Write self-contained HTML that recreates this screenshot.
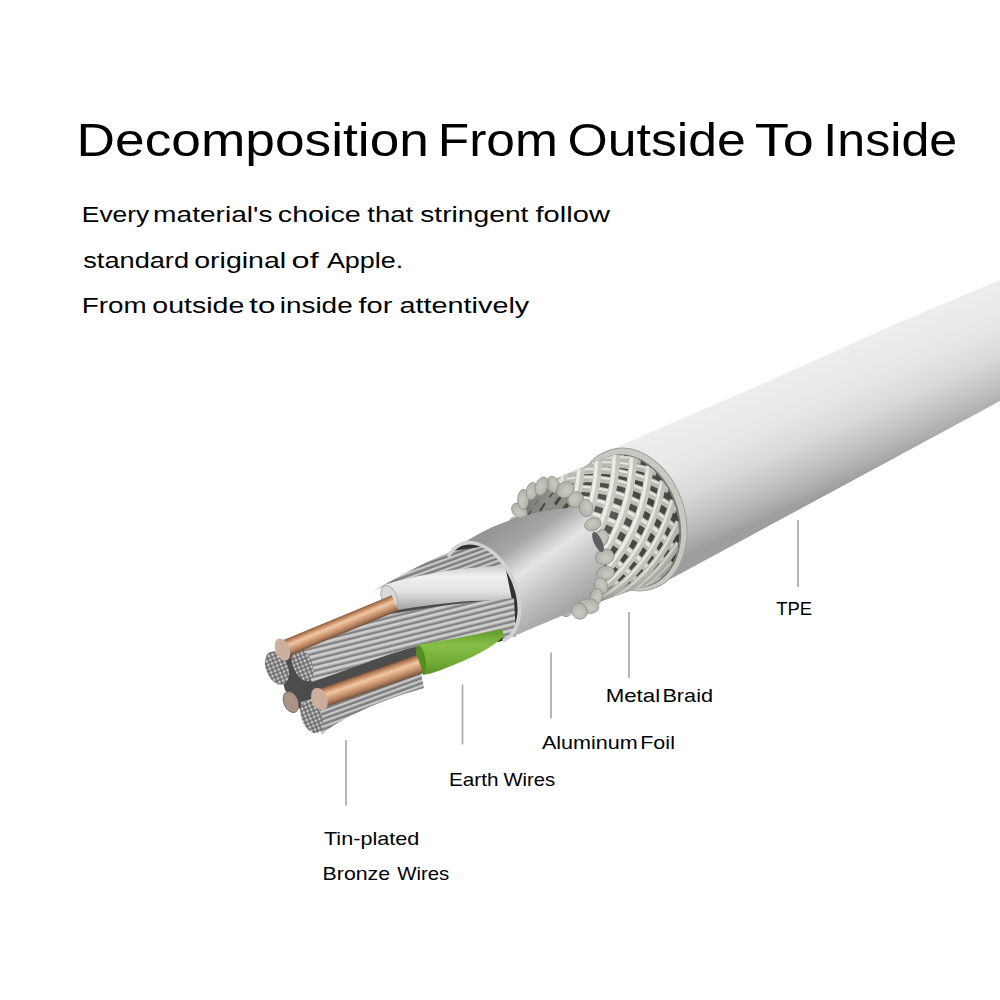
<!DOCTYPE html>
<html><head><meta charset="utf-8"><style>
html,body{margin:0;padding:0;background:#fff;width:1000px;height:1000px;overflow:hidden}
svg{display:block}
text{font-family:"Liberation Sans",sans-serif;fill:#000;white-space:pre}
</style></head><body>
<svg width="1000" height="1000" viewBox="0 0 1000 1000">
<defs>
<linearGradient id="tpe" gradientUnits="userSpaceOnUse" x1="800" y1="367" x2="851" y2="481.5">
  <stop offset="0" stop-color="#ededed"/>
  <stop offset="0.3" stop-color="#e8e8e8"/>
  <stop offset="0.55" stop-color="#dadada"/>
  <stop offset="0.75" stop-color="#c4c4c4"/>
  <stop offset="0.9" stop-color="#b0b0b0"/>
  <stop offset="1" stop-color="#9e9e9e"/>
</linearGradient>
<linearGradient id="cu" x1="0" y1="0" x2="0" y2="1">
  <stop offset="0" stop-color="#8a583a"/>
  <stop offset="0.15" stop-color="#c08660"/>
  <stop offset="0.38" stop-color="#f0c8a4"/>
  <stop offset="0.55" stop-color="#dcaa84"/>
  <stop offset="0.8" stop-color="#b47e5c"/>
  <stop offset="1" stop-color="#70503c"/>
</linearGradient>
<linearGradient id="wht" x1="0" y1="0" x2="0" y2="1">
  <stop offset="0" stop-color="#c8c8c8"/>
  <stop offset="0.25" stop-color="#f0f0f0"/>
  <stop offset="0.6" stop-color="#e2e2e2"/>
  <stop offset="1" stop-color="#a0a0a0"/>
</linearGradient>
<linearGradient id="grn" x1="0" y1="0" x2="0" y2="1">
  <stop offset="0" stop-color="#5e9a28"/>
  <stop offset="0.35" stop-color="#86be46"/>
  <stop offset="0.7" stop-color="#74ae38"/>
  <stop offset="1" stop-color="#5a9224"/>
</linearGradient>
<pattern id="strp" patternUnits="userSpaceOnUse" width="60" height="5.6" patternTransform="rotate(-14)">
  <rect width="60" height="5.6" fill="#acacac"/>
  <rect y="0.6" width="60" height="1.8" fill="#d8d8d8"/>
  <rect y="4" width="60" height="1.3" fill="#707070"/>
</pattern>
<pattern id="strp2" patternUnits="userSpaceOnUse" width="60" height="4.8" patternTransform="rotate(-20)">
  <rect width="60" height="4.8" fill="#9c9c9c"/>
  <rect y="0.4" width="60" height="1.6" fill="#d2d2d2"/>
  <rect y="3.4" width="60" height="1.1" fill="#666"/>
</pattern>
<pattern id="dots" patternUnits="userSpaceOnUse" width="4" height="4">
  <rect width="4" height="4" fill="#686868"/>
  <circle cx="2" cy="2" r="1.45" fill="#cacaca"/>
</pattern>
<linearGradient id="foil" gradientUnits="userSpaceOnUse" x1="518" y1="515" x2="578" y2="602">
  <stop offset="0" stop-color="#969696"/>
  <stop offset="0.22" stop-color="#a6a6a6"/>
  <stop offset="0.36" stop-color="#cacaca"/>
  <stop offset="0.47" stop-color="#e4e4e4"/>
  <stop offset="0.6" stop-color="#d4d4d4"/>
  <stop offset="0.78" stop-color="#bdbdbd"/>
  <stop offset="1" stop-color="#a6a6a6"/>
</linearGradient>
<radialGradient id="braidshade" gradientUnits="userSpaceOnUse" cx="605" cy="515" r="90">
  <stop offset="0" stop-color="#fff" stop-opacity="0.12"/>
  <stop offset="0.55" stop-color="#fff" stop-opacity="0"/>
  <stop offset="0.85" stop-color="#000" stop-opacity="0.12"/>
  <stop offset="1" stop-color="#000" stop-opacity="0.3"/>
</radialGradient>
<pattern id="mesh" patternUnits="userSpaceOnUse" width="16" height="15" patternTransform="translate(600,455) matrix(0.95 0.33 0.06 1 0 0)">
  <rect width="16" height="15" fill="#d4d4cc"/>
  <rect x="5" y="4" width="8.5" height="10" fill="#3a3a36"/>
  <rect x="7" y="8" width="5" height="5" fill="#5e5e58"/>
  <rect x="5" y="4" width="8.5" height="2.2" fill="#f6f6f0"/>
  <rect x="5" y="4" width="1.6" height="10" fill="#a8a8a2"/>
  <rect x="0" y="0" width="16" height="1.4" fill="#a6a69e"/>
  <rect x="0" y="0" width="2.2" height="15" fill="#f0f0ea"/>
  <rect x="2.2" y="0" width="1" height="15" fill="#b8b8b0"/>
</pattern>
<radialGradient id="blob" cx="0.45" cy="0.4" r="0.65">
  <stop offset="0" stop-color="#cacac2"/>
  <stop offset="0.8" stop-color="#b4b4ac"/>
  <stop offset="1" stop-color="#9a9a92"/>
</radialGradient>
<clipPath id="braidclip">
  <path d="M536.4,487.4 L602.1,459.0 L640.7,587.0 L573.7,610.7 Z"/>
  <ellipse cx="628" cy="521" rx="49.5" ry="67.5" transform="rotate(-16.8,628,521)"/>
  <ellipse cx="560" cy="548" rx="41" ry="65" transform="rotate(-20,560,548)"/>
</clipPath>
</defs>
<rect width="1000" height="1000" fill="#fff"/>
<path d="M610,450 L780,376 L900,322 L1000,280 L1000,401 L652,589 Z" fill="url(#tpe)"/>
<ellipse cx="631.0" cy="519.5" rx="54.2" ry="72.6" transform="rotate(-16.8,631.0,519.5)" fill="#c8c8c2" stroke="#a0a09a" stroke-width="1" />
<ellipse cx="629.5" cy="521.0" rx="50.0" ry="68.0" transform="rotate(-16.8,629.5,521.0)" fill="#7a7a76" stroke="none" stroke-width="0" />
<g clip-path="url(#braidclip)"><rect x="500" y="440" width="200" height="190" fill="#44443f"/><path d="M642.4,589.8 L642.4,589.7 L642.3,589.4 L642.2,588.8 L641.9,588.0 L641.6,586.9 M627.5,597.2 L627.6,597.3 L627.5,597.1 L627.4,596.6 L627.1,595.8 L626.8,594.8 L626.4,593.4 L626.0,591.8 L625.6,589.9 L625.2,587.7 L624.8,585.4 M611.4,602.2 L611.9,602.8 L612.2,603.1 L612.3,603.1 L612.2,602.8 L612.1,602.2 L611.8,601.3 L611.5,600.1 L611.1,598.6 L610.6,596.8 L610.2,594.7 L609.7,592.3 L609.3,589.7 L608.9,586.8 L608.6,583.6 L608.4,580.3 L608.3,576.8 M594.3,605.1 L595.1,605.9 L595.8,606.6 L596.3,607.0 L596.6,607.2 L596.7,607.1 L596.7,606.7 L596.6,606.0 L596.4,605.0 L596.1,603.7 L595.7,602.1 L595.3,600.2 L594.8,598.0 L594.4,595.4 L594.0,592.6 L593.6,589.6 L593.3,586.2 L593.1,582.7 L593.0,578.9 L593.0,575.0 L593.2,570.8 L593.5,566.6 L594.0,562.2 M580.2,609.7 L580.7,609.8 L581.0,609.8 L581.2,609.4 L581.3,608.8 L581.3,608.0 L581.1,606.9 L580.9,605.5 L580.5,603.8 L580.2,601.8 L579.8,599.5 L579.4,596.9 L579.0,594.0 L578.6,590.9 L578.4,587.4 L578.2,583.8 L578.1,579.8 L578.2,575.7 L578.4,571.4 L578.7,567.0 L579.3,562.4 L580.0,557.7 L580.9,552.9 L582.0,548.0 L583.3,543.1 M566.2,609.9 L566.2,608.8 L566.1,607.4 L566.0,605.8 L565.8,604.0 L565.5,601.9 L565.2,599.5 L564.9,596.8 L564.6,593.9 L564.3,590.6 L564.1,587.2 L563.9,583.4 L563.9,579.5 L564.0,575.3 L564.2,570.9 L564.6,566.3 L565.2,561.6 L566.0,556.8 L567.0,551.9 L568.2,546.8 L569.6,541.8 L571.3,536.7 L573.2,531.6 L575.3,526.6 L577.6,521.6 M551.5,603.3 L551.4,601.0 L551.2,598.4 L551.0,595.6 L550.8,592.5 L550.7,589.3 L550.6,585.7 L550.5,581.9 L550.6,577.9 L550.7,573.7 L551.0,569.3 L551.5,564.7 L552.1,560.0 L552.9,555.1 L554.0,550.1 L555.2,545.1 L556.7,539.9 L558.4,534.8 L560.4,529.7 L562.6,524.5 L565.1,519.5 L567.8,514.4 L570.8,509.5 L573.9,504.7 L577.3,500.0 M537.7,590.7 L537.8,587.3 L537.8,583.6 L537.9,579.8 L538.1,575.8 L538.4,571.5 L538.8,567.1 L539.4,562.5 L540.1,557.8 L540.9,552.9 L542.0,547.9 L543.3,542.9 L544.9,537.7 L546.6,532.6 L548.7,527.4 L550.9,522.3 L553.5,517.2 L556.3,512.2 L559.3,507.2 L562.7,502.4 L566.2,497.8 L570.0,493.2 L574.0,488.9 L578.2,484.7 L582.6,480.7 M526.4,573.4 L526.9,569.2 L527.5,564.7 L528.2,560.2 L529.0,555.5 L530.0,550.6 L531.2,545.7 L532.6,540.7 L534.2,535.6 L536.0,530.5 L538.1,525.3 L540.4,520.2 L543.0,515.2 L545.8,510.2 L548.9,505.2 L552.3,500.5 L555.9,495.8 L559.8,491.4 L563.9,487.1 L568.2,483.0 L572.8,479.1 L577.6,475.4 L582.5,472.0 L587.6,468.8 L592.8,465.8 M518.8,553.4 L520.0,548.6 L521.3,543.8 L522.8,538.8 L524.6,533.8 L526.5,528.8 L528.6,523.8 L531.0,518.7 L533.6,513.8 L536.5,508.8 L539.6,504.0 L543.0,499.3 L546.6,494.7 L550.6,490.2 L554.7,486.0 L559.1,482.0 L563.7,478.2 L568.6,474.6 L573.6,471.3 L578.8,468.3 L584.2,465.5 L589.7,463.0 L595.3,460.7 L601.0,458.7 L606.8,456.9 M515.6,532.8 L517.7,527.9 L520.0,523.0 L522.5,518.1 L525.2,513.3 L528.1,508.5 L531.3,503.8 L534.7,499.2 L538.4,494.7 L542.3,490.3 L546.5,486.2 L550.9,482.2 L555.5,478.5 L560.3,475.0 L565.4,471.8 L570.6,468.9 L576.1,466.2 L581.6,463.8 L587.4,461.7 L593.2,459.9 L599.1,458.4 L605.1,457.2 M517.2,513.8 L520.3,509.2 L523.6,504.7 L527.1,500.3 L530.8,496.0 L534.8,491.9 L538.9,487.9 L543.3,484.0 L548.0,480.4 L552.8,477.0 L557.9,473.9 L563.1,471.1 L568.5,468.5 L574.1,466.2 L579.8,464.2 L585.7,462.5 L591.6,461.2 M523.6,498.6 L527.6,494.7 L531.8,490.9 L536.3,487.3 L540.9,483.9 L545.7,480.7 L550.7,477.8 L556.0,475.0 L561.3,472.6 L566.9,470.4 L572.6,468.5 M533.9,488.7 L538.7,485.8 L543.7,483.1 L548.9,480.6 L554.3,478.3 M641.7,590.2 L641.7,590.1 L641.5,589.7 L641.3,589.1 L641.0,588.1 L640.7,587.0 M626.5,597.2 L626.7,597.6 L626.8,597.6 L626.7,597.4 L626.5,596.8 L626.3,596.0 L625.9,594.8 L625.5,593.4 L625.1,591.7 L624.7,589.7 L624.3,587.5 L623.9,585.1 M610.7,602.6 L611.1,603.1 L611.4,603.4 L611.5,603.3 L611.4,603.0 L611.2,602.3 L610.9,601.3 L610.6,600.1 L610.2,598.5 L609.7,596.6 L609.3,594.4 L608.8,592.0 L608.4,589.3 L608.1,586.3 L607.8,583.1 L607.6,579.7 L607.5,576.2 M593.6,605.5 L594.4,606.3 L595.1,606.9 L595.5,607.2 L595.8,607.3 L595.9,607.2 L595.9,606.7 L595.8,605.9 L595.5,604.9 L595.2,603.5 L594.8,601.9 L594.4,599.9 L593.9,597.6 L593.5,595.0 L593.1,592.1 L592.7,589.0 L592.5,585.6 L592.3,582.0 L592.2,578.2 L592.3,574.2 L592.5,570.0 L592.8,565.7 L593.3,561.3 M579.5,609.9 L580.0,610.0 L580.3,609.8 L580.5,609.4 L580.5,608.8 L580.4,607.9 L580.3,606.7 L580.0,605.2 L579.7,603.4 L579.3,601.4 L578.9,599.0 L578.5,596.3 L578.1,593.4 L577.8,590.2 L577.6,586.7 L577.4,583.0 L577.3,579.0 L577.4,574.8 L577.7,570.5 L578.1,566.0 L578.7,561.4 L579.4,556.6 L580.4,551.8 L581.6,546.9 L582.9,542.0 M565.4,609.7 L565.4,608.5 L565.3,607.1 L565.2,605.5 L565.0,603.5 L564.7,601.4 L564.4,598.9 L564.1,596.2 L563.8,593.2 L563.5,589.9 L563.3,586.3 L563.2,582.6 L563.2,578.5 L563.3,574.3 L563.6,569.9 L564.0,565.3 L564.7,560.5 L565.5,555.7 L566.5,550.7 L567.8,545.7 L569.3,540.6 L571.0,535.6 L572.9,530.5 L575.1,525.4 L577.4,520.4 M550.7,602.8 L550.6,600.4 L550.4,597.8 L550.3,594.9 L550.1,591.8 L550.0,588.4 L549.9,584.8 L549.8,581.0 L549.9,577.0 L550.1,572.7 L550.4,568.3 L550.9,563.6 L551.6,558.9 L552.5,554.0 L553.5,549.0 L554.9,543.9 L556.4,538.8 L558.2,533.6 L560.2,528.5 L562.5,523.3 L565.0,518.3 L567.8,513.3 L570.8,508.4 L574.0,503.6 L577.5,498.9 M537.1,589.9 L537.1,586.4 L537.2,582.7 L537.3,578.8 L537.6,574.8 L537.9,570.5 L538.3,566.0 L538.9,561.4 L539.6,556.6 L540.6,551.8 L541.7,546.8 L543.0,541.7 L544.6,536.5 L546.4,531.4 L548.5,526.2 L550.9,521.1 L553.5,516.0 L556.3,511.0 L559.4,506.1 L562.8,501.3 L566.4,496.7 L570.3,492.2 L574.3,487.9 L578.6,483.7 L583.0,479.8 M525.9,572.4 L526.4,568.1 L527.1,563.7 L527.8,559.1 L528.7,554.3 L529.7,549.5 L531.0,544.5 L532.4,539.5 L534.0,534.4 L535.9,529.3 L538.0,524.2 L540.4,519.1 L543.0,514.0 L545.9,509.0 L549.1,504.1 L552.5,499.4 L556.2,494.8 L560.1,490.4 L564.3,486.1 L568.7,482.1 L573.3,478.2 L578.1,474.6 L583.1,471.3 L588.2,468.1 L593.5,465.2 M518.5,552.3 L519.7,547.5 L521.1,542.6 L522.7,537.7 L524.5,532.7 L526.4,527.7 L528.6,522.7 L531.1,517.6 L533.7,512.7 L536.7,507.8 L539.8,502.9 L543.3,498.2 L547.0,493.7 L550.9,489.3 L555.2,485.1 L559.6,481.2 L564.3,477.4 L569.2,473.9 L574.2,470.7 L579.5,467.7 L584.9,464.9 L590.4,462.5 L596.1,460.3 L601.8,458.3 L607.7,456.6 M515.5,531.7 L517.7,526.8 L520.0,522.0 L522.6,517.1 L525.4,512.3 L528.4,507.5 L531.6,502.8 L535.1,498.2 L538.8,493.8 L542.7,489.5 L546.9,485.4 L551.4,481.5 L556.1,477.8 L561.0,474.4 L566.1,471.2 L571.4,468.4 L576.8,465.8 L582.4,463.4 L588.2,461.4 L594.0,459.7 L599.9,458.2 L605.9,457.1 M517.5,512.9 L520.6,508.4 L523.9,503.9 L527.5,499.5 L531.3,495.2 L535.3,491.1 L539.5,487.2 L543.9,483.4 L548.6,479.8 L553.5,476.5 L558.6,473.4 L563.8,470.7 L569.3,468.1 L574.9,465.9 L580.7,464.0 L586.5,462.4 M524.0,497.9 L528.1,494.1 L532.4,490.4 L536.8,486.8 L541.5,483.5 L546.4,480.3 L551.5,477.4 L556.7,474.7 L562.1,472.3 L567.7,470.2 L573.4,468.4 M534.5,488.4 L539.4,485.5 L544.4,482.9 L549.7,480.4 L555.0,478.2 M640.9,590.7 L640.9,590.5 L640.7,590.0 L640.5,589.3 L640.2,588.3 L639.9,587.1 M625.8,597.7 L625.9,598.0 L626.0,597.9 L625.9,597.6 L625.7,597.0 L625.4,596.1 L625.0,594.8 L624.6,593.3 L624.2,591.6 L623.8,589.5 L623.4,587.3 L623.0,584.8 M580.0,465.6 L580.2,464.7 L580.4,464.1 L580.6,463.7 L581.0,463.7 L581.4,464.0 L581.9,464.5 L582.5,465.2 L583.2,466.2 L584.1,467.5 L585.1,468.9 L586.2,470.5 L587.4,472.2 M597.5,459.3 L597.7,458.9 L598.0,458.7 L598.3,458.7 L598.7,459.0 L599.2,459.6 L599.8,460.3 M580.2,609.7 L585.4,608.6 L590.6,607.2 L595.8,605.6 M566.2,609.9 L571.4,609.9 L576.7,609.8 L582.0,609.4 L587.4,608.8 L592.7,607.9 L598.1,606.8 L603.5,605.3 L608.8,603.6 L614.1,601.6 M551.5,603.3 L556.5,604.4 L561.6,605.4 L566.8,606.2 L572.1,606.8 L577.4,607.2 L582.8,607.3 L588.2,607.1 L593.7,606.7 L599.2,606.0 L604.6,605.0 L610.1,603.6 L615.5,602.0 L620.9,600.1 L626.2,597.8 L631.4,595.3 M537.7,590.7 L542.3,592.7 L547.0,594.5 L551.8,596.3 L556.7,597.9 L561.7,599.3 L566.8,600.6 L572.1,601.6 L577.4,602.4 L582.8,602.9 L588.2,603.2 L593.7,603.2 L599.3,602.9 L604.8,602.3 L610.4,601.3 L615.9,600.1 L621.4,598.6 L626.8,596.8 L632.2,594.6 L637.5,592.3 L642.7,589.6 L647.8,586.7 M526.4,573.4 L530.3,575.9 L534.4,578.3 L538.6,580.7 L542.9,583.1 L547.4,585.3 L552.0,587.4 L556.8,589.4 L561.7,591.2 L566.7,592.8 L571.8,594.2 L577.1,595.4 L582.4,596.3 L587.9,596.9 L593.3,597.3 L598.9,597.4 L604.4,597.2 L610.0,596.7 L615.6,595.9 L621.2,594.8 L626.7,593.4 L632.2,591.8 L637.6,589.9 L643.0,587.7 L648.3,585.4 M518.8,553.4 L521.9,556.0 L525.2,558.6 L528.6,561.3 L532.2,563.9 L536.0,566.6 L539.9,569.2 L544.0,571.8 L548.2,574.3 L552.6,576.7 L557.2,579.0 L562.0,581.1 L566.9,583.0 L571.9,584.7 L577.0,586.2 L582.3,587.4 L587.6,588.5 L593.0,589.2 L598.5,589.7 L604.0,589.9 L609.6,589.8 L615.2,589.4 L620.8,588.8 L626.4,588.0 L631.9,586.9 M515.6,532.8 L517.9,535.0 L520.4,537.4 L523.0,540.0 L525.8,542.6 L528.7,545.3 L531.8,548.0 L535.1,550.8 L538.5,553.6 L542.2,556.4 L546.0,559.1 L550.0,561.8 L554.2,564.4 L558.6,566.9 L563.2,569.2 L567.9,571.4 L572.7,573.4 L577.7,575.1 L582.8,576.7 L588.0,578.1 L593.3,579.2 L598.6,580.0 L604.1,580.7 L609.6,581.1 L615.1,581.2 M517.2,513.8 L518.8,515.4 L520.5,517.2 L522.4,519.2 L524.3,521.3 L526.4,523.6 L528.7,526.0 L531.1,528.6 L533.7,531.3 L536.4,534.0 L539.4,536.8 L542.6,539.7 L546.0,542.5 L549.5,545.4 L553.3,548.2 L557.2,550.9 L561.4,553.5 L565.7,556.1 L570.1,558.4 L574.7,560.6 L579.5,562.7 L584.4,564.6 L589.4,566.2 L594.5,567.7 L599.6,569.0 M523.6,498.6 L524.6,499.2 L525.6,500.1 L526.7,501.2 L528.0,502.5 L529.3,504.0 L530.8,505.7 L532.4,507.7 L534.1,509.8 L536.0,512.1 L538.1,514.5 L540.4,517.1 L542.9,519.8 L545.6,522.6 L548.5,525.4 L551.5,528.3 L554.8,531.2 L558.3,534.0 L561.9,536.8 L565.8,539.5 L569.8,542.2 L573.9,544.7 L578.3,547.1 L582.7,549.4 L587.3,551.5 M533.9,488.7 L534.4,488.2 L535.0,487.9 L535.7,487.9 L536.4,488.1 L537.1,488.6 L537.9,489.3 L538.8,490.3 L539.9,491.5 L541.0,493.0 L542.3,494.7 L543.8,496.6 L545.4,498.7 L547.2,501.0 L549.2,503.4 L551.4,506.0 L553.8,508.6 L556.3,511.4 L559.1,514.2 L562.0,517.0 L565.2,519.8 L568.5,522.7 L571.9,525.4 L575.6,528.1 L579.4,530.8 M547.4,483.6 L547.8,482.1 L548.2,480.8 L548.6,479.8 L548.9,479.0 L549.3,478.5 L549.8,478.3 L550.3,478.4 L550.9,478.7 L551.6,479.4 L552.3,480.3 L553.2,481.5 L554.3,482.9 L555.5,484.5 L556.8,486.4 L558.3,488.5 L560.0,490.7 L561.9,493.1 L563.9,495.5 L566.1,498.1 L568.5,500.8 L571.1,503.5 L573.9,506.2 L576.8,508.9 M564.0,473.1 L564.2,471.9 L564.5,470.9 L564.8,470.3 L565.1,470.0 L565.5,470.0 L566.0,470.3 L566.5,470.9 L567.2,471.7 L568.0,472.8 L569.0,474.1 L570.0,475.7 L571.3,477.5 L572.6,479.4 L574.2,481.5 L575.9,483.7 L577.7,486.0 L579.7,488.4 M581.0,464.6 L581.2,463.9 L581.5,463.5 L581.8,463.4 L582.2,463.6 L582.7,464.0 L583.2,464.7 L583.9,465.7 L584.8,466.8 L585.7,468.2 L586.8,469.7 L588.0,471.4 M598.4,459.3 L598.6,458.7 L598.8,458.5 L599.1,458.5 L599.5,458.7 L600.0,459.2 L600.6,459.8 M579.5,609.9 L584.7,608.8 L589.9,607.5 L595.1,605.9 L600.3,604.1 M565.4,609.7 L570.6,609.8 L575.9,609.7 L581.2,609.4 L586.6,608.9 L592.0,608.1 L597.3,607.0 L602.7,605.6 L608.1,603.9 L613.3,602.0 M550.7,602.8 L555.7,604.0 L560.8,605.0 L566.0,605.8 L571.2,606.5 L576.6,606.9 L582.0,607.1 L587.4,607.0 L592.8,606.6 L598.3,606.0 L603.8,605.0 L609.3,603.8 L614.7,602.2 L620.1,600.4 L625.4,598.2 L630.7,595.8 M537.1,589.9 L541.6,591.9 L546.3,593.8 L551.0,595.6 L555.9,597.2 L560.9,598.7 L566.0,600.0 L571.2,601.1 L576.5,602.0 L581.9,602.6 L587.4,602.9 L592.8,603.0 L598.4,602.7 L603.9,602.2 L609.5,601.3 L615.0,600.2 L620.5,598.7 L626.0,596.9 L631.4,594.9 L636.7,592.6 L641.9,590.0 L647.1,587.2 M525.9,572.4 L529.8,574.9 L533.8,577.4 L537.9,579.8 L542.2,582.2 L546.7,584.4 L551.3,586.6 L556.0,588.6 L560.9,590.4 L565.9,592.1 L571.0,593.6 L576.2,594.8 L581.6,595.8 L587.0,596.5 L592.4,596.9 L598.0,597.0 L603.5,596.9 L609.1,596.5 L614.7,595.7 L620.3,594.7 L625.8,593.4 L631.3,591.8 L636.8,590.0 L642.2,587.9 L647.5,585.6 M518.5,552.3 L521.6,554.9 L524.8,557.5 L528.2,560.2 L531.8,562.8 L535.5,565.5 L539.3,568.2 L543.4,570.8 L547.6,573.3 L552.0,575.7 L556.5,578.0 L561.2,580.2 L566.1,582.1 L571.1,583.9 L576.2,585.4 L581.4,586.7 L586.8,587.8 L592.2,588.6 L597.6,589.1 L603.2,589.4 L608.7,589.4 L614.3,589.1 L619.9,588.6 L625.5,587.8 L631.0,586.8 M515.5,531.7 L517.8,534.0 L520.3,536.3 L522.8,538.8 L525.6,541.4 L528.5,544.1 L531.5,546.8 L534.7,549.6 L538.2,552.4 L541.8,555.2 L545.5,558.0 L549.5,560.7 L553.7,563.3 L558.0,565.8 L562.5,568.2 L567.2,570.4 L572.0,572.4 L577.0,574.2 L582.0,575.9 L587.2,577.3 L592.5,578.4 L597.8,579.4 L603.2,580.0 L608.7,580.5 L614.2,580.7 M517.5,512.9 L519.0,514.5 L520.7,516.2 L522.5,518.1 L524.4,520.2 L526.4,522.5 L528.6,524.9 L531.0,527.4 L533.6,530.1 L536.3,532.8 L539.2,535.6 L542.3,538.5 L545.7,541.3 L549.2,544.2 L552.9,547.0 L556.8,549.7 L560.9,552.4 L565.1,554.9 L569.6,557.4 L574.2,559.6 L578.9,561.7 L583.7,563.6 L588.7,565.3 L593.7,566.9 L598.9,568.2 M524.0,497.9 L525.0,498.5 L526.0,499.3 L527.1,500.3 L528.3,501.6 L529.6,503.1 L531.0,504.7 L532.6,506.6 L534.3,508.7 L536.2,511.0 L538.2,513.4 L540.5,516.0 L542.9,518.6 L545.5,521.4 L548.4,524.2 L551.4,527.1 L554.6,530.0 L558.0,532.8 L561.6,535.6 L565.4,538.4 L569.4,541.0 L573.5,543.6 L577.8,546.0 L582.2,548.3 L586.7,550.5 M534.5,488.4 L535.1,487.8 L535.6,487.4 L536.3,487.3 L536.9,487.5 L537.6,487.9 L538.4,488.6 L539.3,489.5 L540.3,490.7 L541.4,492.1 L542.7,493.7 L544.1,495.6 L545.7,497.7 L547.5,499.9 L549.4,502.3 L551.5,504.9 L553.9,507.5 L556.4,510.2 L559.1,513.0 L562.0,515.8 L565.1,518.7 L568.3,521.5 L571.8,524.2 L575.3,527.0 L579.1,529.6 M548.5,481.9 L548.9,480.6 L549.3,479.5 L549.6,478.7 L550.0,478.1 L550.5,477.8 L551.0,477.9 L551.5,478.2 L552.2,478.7 L552.9,479.6 L553.8,480.7 L554.8,482.1 L555.9,483.7 L557.2,485.5 L558.7,487.5 L560.4,489.7 L562.2,492.0 L564.2,494.5 L566.4,497.0 L568.7,499.7 L571.2,502.4 L573.9,505.1 L576.8,507.8 M564.8,473.0 L565.0,471.7 L565.3,470.7 L565.5,470.1 L565.9,469.7 L566.2,469.6 L566.7,469.8 L567.2,470.3 L567.9,471.1 L568.7,472.1 L569.6,473.4 L570.6,474.9 L571.8,476.6 L573.1,478.5 L574.6,480.6 L576.3,482.7 L578.1,485.0 L580.0,487.4 M581.9,464.5 L582.1,463.7 L582.3,463.3 L582.6,463.1 L583.0,463.2 L583.4,463.6 L584.0,464.2 L584.6,465.1 L585.4,466.2 L586.3,467.5 L587.4,469.0 L588.5,470.7 M599.4,458.6 L599.7,458.3 L600.0,458.2 L600.3,458.4 L600.8,458.8 L601.3,459.4" fill="none" stroke="#8c8c86" stroke-width="6"/><path d="M575.2,498.0 L581.0,498.6 L586.8,499.5 L592.5,500.5 L598.2,501.8 L603.9,503.4 L609.4,505.1 L614.9,507.1 L620.3,509.2 L625.5,511.5 L630.5,514.0 L635.3,516.6 L640.0,519.3 L644.4,522.2 L648.6,525.0 L652.5,527.9 L656.2,530.8 L659.6,533.7 L662.8,536.6 L665.7,539.4 L668.4,542.1 L670.8,544.6 L673.1,547.1 L675.1,549.4 L676.8,551.6 M588.0,513.0 L593.5,514.6 L598.9,516.4 L604.2,518.4 L609.4,520.6 L614.4,522.9 L619.4,525.3 L624.1,527.9 L628.7,530.6 L633.0,533.4 L637.2,536.3 L641.1,539.2 L644.7,542.1 L648.1,545.0 L651.3,547.8 L654.1,550.6 L656.7,553.3 L659.1,555.8 L661.2,558.2 L663.0,560.5 L664.7,562.6 L666.1,564.5 L667.3,566.2 L668.3,567.7 L669.1,569.0 M597.7,531.9 L602.6,534.2 L607.3,536.6 L611.9,539.1 L616.4,541.8 L620.6,544.5 L624.7,547.3 L628.5,550.1 L632.1,553.0 L635.4,555.8 L638.5,558.6 L641.4,561.3 L644.0,564.0 L646.3,566.5 L648.3,568.9 L650.1,571.1 L651.7,573.1 L653.0,574.9 L654.1,576.6 L655.0,577.9 L655.7,579.1 L656.2,580.0 L656.6,580.6 L656.8,581.1 L656.9,581.2 M603.3,552.4 L607.4,555.1 L611.3,557.7 L615.0,560.4 L618.5,563.2 L621.7,565.9 L624.8,568.6 L627.6,571.2 L630.1,573.8 L632.4,576.2 L634.4,578.5 L636.2,580.7 L637.8,582.6 L639.1,584.4 L640.1,585.9 L641.0,587.2 L641.6,588.3 L642.0,589.1 L642.3,589.6 L642.4,589.8 L642.4,589.7 L642.3,589.4 L642.2,588.8 L641.9,588.0 L641.6,586.9 M604.2,572.6 L607.3,575.1 L610.2,577.6 L612.9,580.0 L615.4,582.4 L617.7,584.7 L619.7,586.9 L621.4,588.9 L623.0,590.8 L624.3,592.5 L625.3,593.9 L626.2,595.1 L626.8,596.1 L627.2,596.8 L627.5,597.2 L627.6,597.3 L627.5,597.1 L627.4,596.6 L627.1,595.8 L626.8,594.8 L626.4,593.4 M600.3,590.0 L602.4,592.0 L604.4,594.0 L606.1,595.8 L607.6,597.4 L608.8,598.9 L609.9,600.2 L610.8,601.3 L611.4,602.2 L611.9,602.8 L612.2,603.1 L612.3,603.1 L612.2,602.8 L612.1,602.2 L611.8,601.3 L611.5,600.1 M592.0,602.8 L593.2,604.1 L594.3,605.1 L595.1,605.9 L595.8,606.6 L596.3,607.0 L596.6,607.2 L596.7,607.1 L596.7,606.7 L596.6,606.0 M580.2,609.7 L580.7,609.8 L581.0,609.8 L581.2,609.4 M589.7,463.0 L595.3,460.7 L601.0,458.7 L606.8,456.9 M570.6,468.9 L576.1,466.2 L581.6,463.8 L587.4,461.7 L593.2,459.9 L599.1,458.4 L605.1,457.2 L611.1,456.2 L617.1,455.5 L623.2,455.0 M552.8,477.0 L557.9,473.9 L563.1,471.1 L568.5,468.5 L574.1,466.2 L579.8,464.2 L585.7,462.5 L591.6,461.2 L597.6,460.1 L603.7,459.3 L609.8,458.9 L615.9,458.7 L622.0,458.7 L628.1,459.0 L634.1,459.6 L640.1,460.3 M536.3,487.3 L540.9,483.9 L545.7,480.7 L550.7,477.8 L556.0,475.0 L561.3,472.6 L566.9,470.4 L572.6,468.5 L578.4,466.9 L584.3,465.6 L590.3,464.7 L596.4,464.0 L602.5,463.7 L608.6,463.6 L614.8,463.9 L620.8,464.4 L626.9,465.2 L632.8,466.2 L638.7,467.4 L644.5,468.8 L650.1,470.5 L655.6,472.2 M533.9,488.7 L538.7,485.8 L543.7,483.1 L548.9,480.6 L554.3,478.3 L559.8,476.3 L565.4,474.6 L571.2,473.1 L577.0,471.9 L583.0,471.1 L589.0,470.5 L595.1,470.2 L601.2,470.3 L607.3,470.6 L613.3,471.2 L619.4,472.1 L625.3,473.3 L631.2,474.7 L636.9,476.3 L642.5,478.2 L648.0,480.2 L653.3,482.3 L658.4,484.6 L663.4,487.0 L668.2,489.4 M547.0,485.3 L552.5,483.6 L558.0,482.1 L563.7,480.8 L569.5,479.8 L575.4,479.1 L581.3,478.7 L587.3,478.5 L593.3,478.6 L599.4,479.0 L605.4,479.7 L611.4,480.7 L617.3,481.9 L623.1,483.4 L628.8,485.1 L634.4,487.1 L639.8,489.2 L645.1,491.5 L650.1,493.9 L655.0,496.5 L659.7,499.1 L664.2,501.8 L668.4,504.5 L672.5,507.3 L676.3,510.1 M561.6,488.8 L567.3,488.3 L573.2,488.0 L579.0,488.0 L584.9,488.3 L590.9,488.8 L596.8,489.6 L602.7,490.6 L608.5,491.9 L614.2,493.4 L619.9,495.2 L625.4,497.1 L630.8,499.3 L636.0,501.7 L641.1,504.1 L645.9,506.8 L650.5,509.5 L654.9,512.3 L659.1,515.2 L663.1,518.0 L666.8,520.9 L670.2,523.7 L673.5,526.5 L676.5,529.3 L679.2,531.9 M576.0,498.7 L581.7,499.3 L587.5,500.2 L593.2,501.4 L598.9,502.7 L604.5,504.3 L610.1,506.1 L615.5,508.1 L620.8,510.3 L626.0,512.6 L631.0,515.1 L635.8,517.8 L640.3,520.5 L644.7,523.3 L648.8,526.2 L652.7,529.1 L656.4,532.1 L659.7,534.9 L662.9,537.8 L665.7,540.5 L668.3,543.2 L670.7,545.8 L672.9,548.2 L674.8,550.5 L676.6,552.6 M588.6,513.9 L594.0,515.6 L599.4,517.4 L604.7,519.4 L609.8,521.6 L614.9,524.0 L619.8,526.5 L624.5,529.1 L629.0,531.8 L633.3,534.6 L637.4,537.5 L641.2,540.4 L644.8,543.3 L648.2,546.1 L651.2,549.0 L654.1,551.7 L656.6,554.4 L658.9,556.9 L660.9,559.3 L662.7,561.5 L664.3,563.6 L665.7,565.4 L666.8,567.1 L667.8,568.6 L668.6,569.8 M598.1,532.9 L603.0,535.2 L607.7,537.7 L612.2,540.2 L616.6,542.9 L620.8,545.6 L624.8,548.4 L628.6,551.3 L632.1,554.1 L635.4,556.9 L638.5,559.7 L641.3,562.4 L643.8,565.0 L646.0,567.5 L648.0,569.9 L649.8,572.1 L651.3,574.1 L652.5,575.8 L653.6,577.4 L654.4,578.7 L655.1,579.8 L655.6,580.6 L655.9,581.2 L656.1,581.6 L656.2,581.7 M603.5,553.5 L607.5,556.2 L611.3,558.8 L615.0,561.5 L618.4,564.3 L621.6,567.0 L624.6,569.6 L627.4,572.2 L629.9,574.8 L632.1,577.2 L634.1,579.5 L635.8,581.6 L637.3,583.5 L638.5,585.2 L639.5,586.7 L640.3,587.9 L640.9,588.9 L641.3,589.6 L641.6,590.1 L641.7,590.2 L641.7,590.1 L641.5,589.7 L641.3,589.1 L641.0,588.1 L640.7,587.0 M604.1,573.6 L607.2,576.1 L610.1,578.5 L612.7,581.0 L615.1,583.3 L617.3,585.6 L619.3,587.7 L621.0,589.7 L622.5,591.5 L623.7,593.2 L624.7,594.6 L625.5,595.7 L626.1,596.6 L626.5,597.2 L626.7,597.6 L626.8,597.6 L626.7,597.4 L626.5,596.8 L626.3,596.0 L625.9,594.8 L625.5,593.4 M600.0,590.8 L602.1,592.8 L603.9,594.7 L605.6,596.5 L607.0,598.1 L608.3,599.5 L609.3,600.8 L610.1,601.8 L610.7,602.6 L611.1,603.1 L611.4,603.4 L611.5,603.3 L611.4,603.0 L611.2,602.3 L610.9,601.3 M591.4,603.4 L592.6,604.5 L593.6,605.5 L594.4,606.3 L595.1,606.9 L595.5,607.2 L595.8,607.3 L595.9,607.2 L595.9,606.7 L595.8,605.9 M579.5,609.9 L580.0,610.0 L580.3,609.8 L580.5,609.4 M584.9,464.9 L590.4,462.5 L596.1,460.3 L601.8,458.3 L607.7,456.6 M571.4,468.4 L576.8,465.8 L582.4,463.4 L588.2,461.4 L594.0,459.7 L599.9,458.2 L605.9,457.1 L612.0,456.2 L618.0,455.5 L624.1,455.1 M553.5,476.5 L558.6,473.4 L563.8,470.7 L569.3,468.1 L574.9,465.9 L580.7,464.0 L586.5,462.4 L592.5,461.1 L598.5,460.1 L604.6,459.4 L610.7,459.0 L616.8,458.9 L622.9,459.0 L629.0,459.4 L635.0,460.0 L640.9,460.8 M536.8,486.8 L541.5,483.5 L546.4,480.3 L551.5,477.4 L556.7,474.7 L562.1,472.3 L567.7,470.2 L573.4,468.4 L579.3,466.9 L585.2,465.7 L591.2,464.8 L597.3,464.2 L603.4,463.9 L609.5,464.0 L615.7,464.3 L621.7,464.9 L627.7,465.7 L633.7,466.8 L639.5,468.1 L645.3,469.5 L650.9,471.2 L656.4,473.0 M534.5,488.4 L539.4,485.5 L544.4,482.9 L549.7,480.4 L555.0,478.2 L560.6,476.3 L566.2,474.6 L572.0,473.2 L577.9,472.1 L583.9,471.3 L589.9,470.8 L596.0,470.6 L602.1,470.7 L608.2,471.1 L614.2,471.8 L620.2,472.8 L626.1,474.0 L632.0,475.5 L637.7,477.1 L643.3,479.0 L648.7,481.1 L654.0,483.2 L659.1,485.6 L664.0,488.0 L668.7,490.5 M547.7,485.3 L553.2,483.7 L558.8,482.2 L564.5,481.0 L570.3,480.1 L576.2,479.4 L582.2,479.1 L588.2,479.0 L594.2,479.2 L600.2,479.6 L606.2,480.4 L612.2,481.4 L618.1,482.7 L623.9,484.2 L629.5,486.0 L635.1,488.0 L640.5,490.2 L645.7,492.5 L650.7,495.0 L655.6,497.5 L660.2,500.2 L664.6,502.9 L668.8,505.7 L672.8,508.5 L676.6,511.2 M562.3,489.1 L568.1,488.7 L573.9,488.5 L579.8,488.6 L585.7,488.9 L591.6,489.5 L597.5,490.3 L603.4,491.4 L609.2,492.7 L614.9,494.3 L620.6,496.1 L626.1,498.1 L631.4,500.3 L636.6,502.7 L641.6,505.3 L646.4,507.9 L651.0,510.7 L655.3,513.5 L659.5,516.3 L663.3,519.2 L667.0,522.1 L670.4,524.9 L673.6,527.7 L676.5,530.4 L679.2,533.1 M576.7,499.3 L582.4,500.1 L588.2,501.0 L593.9,502.2 L599.6,503.6 L605.2,505.3 L610.7,507.1 L616.1,509.1 L621.4,511.3 L626.5,513.7 L631.4,516.3 L636.2,518.9 L640.7,521.7 L645.0,524.5 L649.1,527.4 L652.9,530.3 L656.5,533.3 L659.8,536.1 L662.9,539.0 L665.7,541.7 L668.3,544.3 L670.6,546.9 L672.7,549.3 L674.6,551.5 L676.3,553.6 M589.2,514.9 L594.6,516.6 L599.9,518.4 L605.2,520.5 L610.3,522.7 L615.3,525.1 L620.1,527.6 L624.8,530.2 L629.3,533.0 L633.5,535.8 L637.6,538.7 L641.4,541.6 L644.9,544.5 L648.2,547.3 L651.2,550.1 L654.0,552.9 L656.5,555.5 L658.7,558.0 L660.7,560.4 L662.4,562.5 L663.9,564.6 L665.2,566.4 L666.4,568.0 L667.3,569.4 L668.0,570.6 M598.5,534.0 L603.3,536.3 L608.0,538.8 L612.5,541.4 L616.8,544.0 L621.0,546.8 L624.9,549.6 L628.6,552.4 L632.1,555.3 L635.4,558.1 L638.4,560.8 L641.1,563.5 L643.6,566.1 L645.8,568.6 L647.7,570.9 L649.4,573.0 L650.8,575.0 L652.1,576.7 L653.1,578.2 L653.8,579.5 L654.5,580.5 L654.9,581.3 L655.2,581.8 L655.4,582.1 L655.4,582.2 M603.7,554.6 L607.6,557.3 L611.4,559.9 L615.0,562.6 L618.4,565.3 L621.5,568.0 L624.5,570.7 L627.2,573.3 L629.6,575.8 L631.8,578.2 L633.7,580.4 L635.4,582.5 L636.8,584.3 L638.0,586.0 L639.0,587.4 L639.7,588.6 L640.3,589.5 L640.6,590.2 L640.8,590.6 L640.9,590.7 L640.9,590.5 L640.7,590.0 L640.5,589.3 L640.2,588.3 L639.9,587.1 M604.0,574.6 L607.0,577.0 L609.8,579.5 L612.4,581.9 L614.8,584.2 L616.9,586.5 L618.8,588.6 L620.5,590.5 L621.9,592.3 L623.1,593.8 L624.1,595.2 L624.9,596.3 L625.4,597.1 L625.8,597.7 L625.9,598.0 L626.0,597.9 L625.9,597.6 L625.7,597.0 L625.4,596.1 L625.0,594.8 L624.6,593.3" fill="none" stroke="#babab2" stroke-width="6.5"/><path d="M575.2,498.0 L581.0,498.6 L586.8,499.5 L592.5,500.5 L598.2,501.8 L603.9,503.4 L609.4,505.1 L614.9,507.1 L620.3,509.2 L625.5,511.5 L630.5,514.0 L635.3,516.6 L640.0,519.3 L644.4,522.2 L648.6,525.0 L652.5,527.9 L656.2,530.8 L659.6,533.7 L662.8,536.6 L665.7,539.4 L668.4,542.1 L670.8,544.6 L673.1,547.1 L675.1,549.4 L676.8,551.6 M588.0,513.0 L593.5,514.6 L598.9,516.4 L604.2,518.4 L609.4,520.6 L614.4,522.9 L619.4,525.3 L624.1,527.9 L628.7,530.6 L633.0,533.4 L637.2,536.3 L641.1,539.2 L644.7,542.1 L648.1,545.0 L651.3,547.8 L654.1,550.6 L656.7,553.3 L659.1,555.8 L661.2,558.2 L663.0,560.5 L664.7,562.6 L666.1,564.5 L667.3,566.2 L668.3,567.7 L669.1,569.0 M597.7,531.9 L602.6,534.2 L607.3,536.6 L611.9,539.1 L616.4,541.8 L620.6,544.5 L624.7,547.3 L628.5,550.1 L632.1,553.0 L635.4,555.8 L638.5,558.6 L641.4,561.3 L644.0,564.0 L646.3,566.5 L648.3,568.9 L650.1,571.1 L651.7,573.1 L653.0,574.9 L654.1,576.6 L655.0,577.9 L655.7,579.1 L656.2,580.0 L656.6,580.6 L656.8,581.1 L656.9,581.2 M603.3,552.4 L607.4,555.1 L611.3,557.7 L615.0,560.4 L618.5,563.2 L621.7,565.9 L624.8,568.6 L627.6,571.2 L630.1,573.8 L632.4,576.2 L634.4,578.5 L636.2,580.7 L637.8,582.6 L639.1,584.4 L640.1,585.9 L641.0,587.2 L641.6,588.3 L642.0,589.1 L642.3,589.6 L642.4,589.8 L642.4,589.7 L642.3,589.4 L642.2,588.8 L641.9,588.0 L641.6,586.9 M604.2,572.6 L607.3,575.1 L610.2,577.6 L612.9,580.0 L615.4,582.4 L617.7,584.7 L619.7,586.9 L621.4,588.9 L623.0,590.8 L624.3,592.5 L625.3,593.9 L626.2,595.1 L626.8,596.1 L627.2,596.8 L627.5,597.2 L627.6,597.3 L627.5,597.1 L627.4,596.6 L627.1,595.8 L626.8,594.8 L626.4,593.4 M600.3,590.0 L602.4,592.0 L604.4,594.0 L606.1,595.8 L607.6,597.4 L608.8,598.9 L609.9,600.2 L610.8,601.3 L611.4,602.2 L611.9,602.8 L612.2,603.1 L612.3,603.1 L612.2,602.8 L612.1,602.2 L611.8,601.3 L611.5,600.1 M592.0,602.8 L593.2,604.1 L594.3,605.1 L595.1,605.9 L595.8,606.6 L596.3,607.0 L596.6,607.2 L596.7,607.1 L596.7,606.7 L596.6,606.0 M580.2,609.7 L580.7,609.8 L581.0,609.8 L581.2,609.4 M589.7,463.0 L595.3,460.7 L601.0,458.7 L606.8,456.9 M570.6,468.9 L576.1,466.2 L581.6,463.8 L587.4,461.7 L593.2,459.9 L599.1,458.4 L605.1,457.2 L611.1,456.2 L617.1,455.5 L623.2,455.0 M552.8,477.0 L557.9,473.9 L563.1,471.1 L568.5,468.5 L574.1,466.2 L579.8,464.2 L585.7,462.5 L591.6,461.2 L597.6,460.1 L603.7,459.3 L609.8,458.9 L615.9,458.7 L622.0,458.7 L628.1,459.0 L634.1,459.6 L640.1,460.3 M536.3,487.3 L540.9,483.9 L545.7,480.7 L550.7,477.8 L556.0,475.0 L561.3,472.6 L566.9,470.4 L572.6,468.5 L578.4,466.9 L584.3,465.6 L590.3,464.7 L596.4,464.0 L602.5,463.7 L608.6,463.6 L614.8,463.9 L620.8,464.4 L626.9,465.2 L632.8,466.2 L638.7,467.4 L644.5,468.8 L650.1,470.5 L655.6,472.2 M533.9,488.7 L538.7,485.8 L543.7,483.1 L548.9,480.6 L554.3,478.3 L559.8,476.3 L565.4,474.6 L571.2,473.1 L577.0,471.9 L583.0,471.1 L589.0,470.5 L595.1,470.2 L601.2,470.3 L607.3,470.6 L613.3,471.2 L619.4,472.1 L625.3,473.3 L631.2,474.7 L636.9,476.3 L642.5,478.2 L648.0,480.2 L653.3,482.3 L658.4,484.6 L663.4,487.0 L668.2,489.4 M547.0,485.3 L552.5,483.6 L558.0,482.1 L563.7,480.8 L569.5,479.8 L575.4,479.1 L581.3,478.7 L587.3,478.5 L593.3,478.6 L599.4,479.0 L605.4,479.7 L611.4,480.7 L617.3,481.9 L623.1,483.4 L628.8,485.1 L634.4,487.1 L639.8,489.2 L645.1,491.5 L650.1,493.9 L655.0,496.5 L659.7,499.1 L664.2,501.8 L668.4,504.5 L672.5,507.3 L676.3,510.1 M561.6,488.8 L567.3,488.3 L573.2,488.0 L579.0,488.0 L584.9,488.3 L590.9,488.8 L596.8,489.6 L602.7,490.6 L608.5,491.9 L614.2,493.4 L619.9,495.2 L625.4,497.1 L630.8,499.3 L636.0,501.7 L641.1,504.1 L645.9,506.8 L650.5,509.5 L654.9,512.3 L659.1,515.2 L663.1,518.0 L666.8,520.9 L670.2,523.7 L673.5,526.5 L676.5,529.3 L679.2,531.9 M576.0,498.7 L581.7,499.3 L587.5,500.2 L593.2,501.4 L598.9,502.7 L604.5,504.3 L610.1,506.1 L615.5,508.1 L620.8,510.3 L626.0,512.6 L631.0,515.1 L635.8,517.8 L640.3,520.5 L644.7,523.3 L648.8,526.2 L652.7,529.1 L656.4,532.1 L659.7,534.9 L662.9,537.8 L665.7,540.5 L668.3,543.2 L670.7,545.8 L672.9,548.2 L674.8,550.5 L676.6,552.6 M588.6,513.9 L594.0,515.6 L599.4,517.4 L604.7,519.4 L609.8,521.6 L614.9,524.0 L619.8,526.5 L624.5,529.1 L629.0,531.8 L633.3,534.6 L637.4,537.5 L641.2,540.4 L644.8,543.3 L648.2,546.1 L651.2,549.0 L654.1,551.7 L656.6,554.4 L658.9,556.9 L660.9,559.3 L662.7,561.5 L664.3,563.6 L665.7,565.4 L666.8,567.1 L667.8,568.6 L668.6,569.8 M598.1,532.9 L603.0,535.2 L607.7,537.7 L612.2,540.2 L616.6,542.9 L620.8,545.6 L624.8,548.4 L628.6,551.3 L632.1,554.1 L635.4,556.9 L638.5,559.7 L641.3,562.4 L643.8,565.0 L646.0,567.5 L648.0,569.9 L649.8,572.1 L651.3,574.1 L652.5,575.8 L653.6,577.4 L654.4,578.7 L655.1,579.8 L655.6,580.6 L655.9,581.2 L656.1,581.6 L656.2,581.7 M603.5,553.5 L607.5,556.2 L611.3,558.8 L615.0,561.5 L618.4,564.3 L621.6,567.0 L624.6,569.6 L627.4,572.2 L629.9,574.8 L632.1,577.2 L634.1,579.5 L635.8,581.6 L637.3,583.5 L638.5,585.2 L639.5,586.7 L640.3,587.9 L640.9,588.9 L641.3,589.6 L641.6,590.1 L641.7,590.2 L641.7,590.1 L641.5,589.7 L641.3,589.1 L641.0,588.1 L640.7,587.0 M604.1,573.6 L607.2,576.1 L610.1,578.5 L612.7,581.0 L615.1,583.3 L617.3,585.6 L619.3,587.7 L621.0,589.7 L622.5,591.5 L623.7,593.2 L624.7,594.6 L625.5,595.7 L626.1,596.6 L626.5,597.2 L626.7,597.6 L626.8,597.6 L626.7,597.4 L626.5,596.8 L626.3,596.0 L625.9,594.8 L625.5,593.4 M600.0,590.8 L602.1,592.8 L603.9,594.7 L605.6,596.5 L607.0,598.1 L608.3,599.5 L609.3,600.8 L610.1,601.8 L610.7,602.6 L611.1,603.1 L611.4,603.4 L611.5,603.3 L611.4,603.0 L611.2,602.3 L610.9,601.3 M591.4,603.4 L592.6,604.5 L593.6,605.5 L594.4,606.3 L595.1,606.9 L595.5,607.2 L595.8,607.3 L595.9,607.2 L595.9,606.7 L595.8,605.9 M579.5,609.9 L580.0,610.0 L580.3,609.8 L580.5,609.4 M584.9,464.9 L590.4,462.5 L596.1,460.3 L601.8,458.3 L607.7,456.6 M571.4,468.4 L576.8,465.8 L582.4,463.4 L588.2,461.4 L594.0,459.7 L599.9,458.2 L605.9,457.1 L612.0,456.2 L618.0,455.5 L624.1,455.1 M553.5,476.5 L558.6,473.4 L563.8,470.7 L569.3,468.1 L574.9,465.9 L580.7,464.0 L586.5,462.4 L592.5,461.1 L598.5,460.1 L604.6,459.4 L610.7,459.0 L616.8,458.9 L622.9,459.0 L629.0,459.4 L635.0,460.0 L640.9,460.8 M536.8,486.8 L541.5,483.5 L546.4,480.3 L551.5,477.4 L556.7,474.7 L562.1,472.3 L567.7,470.2 L573.4,468.4 L579.3,466.9 L585.2,465.7 L591.2,464.8 L597.3,464.2 L603.4,463.9 L609.5,464.0 L615.7,464.3 L621.7,464.9 L627.7,465.7 L633.7,466.8 L639.5,468.1 L645.3,469.5 L650.9,471.2 L656.4,473.0 M534.5,488.4 L539.4,485.5 L544.4,482.9 L549.7,480.4 L555.0,478.2 L560.6,476.3 L566.2,474.6 L572.0,473.2 L577.9,472.1 L583.9,471.3 L589.9,470.8 L596.0,470.6 L602.1,470.7 L608.2,471.1 L614.2,471.8 L620.2,472.8 L626.1,474.0 L632.0,475.5 L637.7,477.1 L643.3,479.0 L648.7,481.1 L654.0,483.2 L659.1,485.6 L664.0,488.0 L668.7,490.5 M547.7,485.3 L553.2,483.7 L558.8,482.2 L564.5,481.0 L570.3,480.1 L576.2,479.4 L582.2,479.1 L588.2,479.0 L594.2,479.2 L600.2,479.6 L606.2,480.4 L612.2,481.4 L618.1,482.7 L623.9,484.2 L629.5,486.0 L635.1,488.0 L640.5,490.2 L645.7,492.5 L650.7,495.0 L655.6,497.5 L660.2,500.2 L664.6,502.9 L668.8,505.7 L672.8,508.5 L676.6,511.2 M562.3,489.1 L568.1,488.7 L573.9,488.5 L579.8,488.6 L585.7,488.9 L591.6,489.5 L597.5,490.3 L603.4,491.4 L609.2,492.7 L614.9,494.3 L620.6,496.1 L626.1,498.1 L631.4,500.3 L636.6,502.7 L641.6,505.3 L646.4,507.9 L651.0,510.7 L655.3,513.5 L659.5,516.3 L663.3,519.2 L667.0,522.1 L670.4,524.9 L673.6,527.7 L676.5,530.4 L679.2,533.1 M576.7,499.3 L582.4,500.1 L588.2,501.0 L593.9,502.2 L599.6,503.6 L605.2,505.3 L610.7,507.1 L616.1,509.1 L621.4,511.3 L626.5,513.7 L631.4,516.3 L636.2,518.9 L640.7,521.7 L645.0,524.5 L649.1,527.4 L652.9,530.3 L656.5,533.3 L659.8,536.1 L662.9,539.0 L665.7,541.7 L668.3,544.3 L670.6,546.9 L672.7,549.3 L674.6,551.5 L676.3,553.6 M589.2,514.9 L594.6,516.6 L599.9,518.4 L605.2,520.5 L610.3,522.7 L615.3,525.1 L620.1,527.6 L624.8,530.2 L629.3,533.0 L633.5,535.8 L637.6,538.7 L641.4,541.6 L644.9,544.5 L648.2,547.3 L651.2,550.1 L654.0,552.9 L656.5,555.5 L658.7,558.0 L660.7,560.4 L662.4,562.5 L663.9,564.6 L665.2,566.4 L666.4,568.0 L667.3,569.4 L668.0,570.6 M598.5,534.0 L603.3,536.3 L608.0,538.8 L612.5,541.4 L616.8,544.0 L621.0,546.8 L624.9,549.6 L628.6,552.4 L632.1,555.3 L635.4,558.1 L638.4,560.8 L641.1,563.5 L643.6,566.1 L645.8,568.6 L647.7,570.9 L649.4,573.0 L650.8,575.0 L652.1,576.7 L653.1,578.2 L653.8,579.5 L654.5,580.5 L654.9,581.3 L655.2,581.8 L655.4,582.1 L655.4,582.2 M603.7,554.6 L607.6,557.3 L611.4,559.9 L615.0,562.6 L618.4,565.3 L621.5,568.0 L624.5,570.7 L627.2,573.3 L629.6,575.8 L631.8,578.2 L633.7,580.4 L635.4,582.5 L636.8,584.3 L638.0,586.0 L639.0,587.4 L639.7,588.6 L640.3,589.5 L640.6,590.2 L640.8,590.6 L640.9,590.7 L640.9,590.5 L640.7,590.0 L640.5,589.3 L640.2,588.3 L639.9,587.1 M604.0,574.6 L607.0,577.0 L609.8,579.5 L612.4,581.9 L614.8,584.2 L616.9,586.5 L618.8,588.6 L620.5,590.5 L621.9,592.3 L623.1,593.8 L624.1,595.2 L624.9,596.3 L625.4,597.1 L625.8,597.7 L625.9,598.0 L626.0,597.9 L625.9,597.6 L625.7,597.0 L625.4,596.1 L625.0,594.8 L624.6,593.3" fill="none" stroke="#e6e6e0" stroke-width="1.6" transform="translate(0,-1.6)"/><path d="M575.2,498.0 L576.1,494.2 L576.8,490.5 L577.4,487.0 L578.0,483.6 L578.4,480.5 L578.8,477.5 L579.1,474.9 L579.3,472.4 L579.5,470.3 L579.7,468.4 L579.8,466.9 L580.0,465.6 L580.2,464.7 L580.4,464.1 L580.6,463.7 L581.0,463.7 L581.4,464.0 L581.9,464.5 L582.5,465.2 M588.0,513.0 L589.4,508.5 L590.7,504.1 L591.8,499.7 L592.8,495.5 L593.7,491.4 L594.4,487.4 L595.1,483.7 L595.6,480.1 L596.0,476.8 L596.3,473.7 L596.6,470.9 L596.8,468.3 L596.9,466.1 L597.0,464.1 L597.1,462.5 L597.2,461.1 L597.3,460.1 L597.5,459.3 L597.7,458.9 L598.0,458.7 L598.3,458.7 L598.7,459.0 L599.2,459.6 L599.8,460.3 M597.7,531.9 L599.8,527.0 L601.8,522.2 L603.6,517.4 L605.3,512.6 L606.8,507.8 L608.2,503.2 L609.4,498.6 L610.4,494.2 L611.3,489.9 L612.1,485.8 L612.7,481.9 L613.2,478.2 L613.6,474.8 L613.9,471.6 L614.2,468.7 L614.3,466.1 L614.5,463.7 L614.5,461.7 L614.6,459.9 L614.7,458.4 L614.8,457.2 L614.9,456.2 L615.1,455.5 L615.3,455.0 M603.3,552.4 L606.2,547.7 L609.0,542.9 L611.6,538.0 L614.1,533.0 L616.4,528.1 L618.5,523.1 L620.5,518.1 L622.2,513.2 L623.8,508.3 L625.3,503.5 L626.5,498.8 L627.6,494.3 L628.5,489.9 L629.3,485.7 L629.9,481.7 L630.5,478.0 L630.9,474.5 L631.2,471.2 L631.5,468.2 L631.7,465.4 L631.8,462.9 L631.9,460.7 L632.0,458.7 L632.1,456.9 M604.2,572.6 L607.9,568.3 L611.5,563.9 L614.9,559.3 L618.2,554.7 L621.4,549.9 L624.3,545.0 L627.1,540.0 L629.7,534.9 L632.2,529.9 L634.4,524.8 L636.4,519.7 L638.3,514.7 L640.0,509.7 L641.4,504.9 L642.7,500.2 L643.9,495.6 L644.9,491.1 L645.7,486.9 L646.4,482.8 L647.0,479.0 L647.5,475.4 L647.9,472.0 L648.3,468.8 L648.5,465.8 M600.3,590.0 L604.7,586.6 L609.0,582.9 L613.2,579.1 L617.2,575.1 L621.2,570.8 L625.0,566.4 L628.6,561.9 L632.1,557.2 L635.4,552.3 L638.5,547.4 L641.5,542.3 L644.2,537.3 L646.7,532.2 L649.0,527.0 L651.1,521.9 L653.1,516.9 L654.8,511.9 L656.4,507.0 L657.8,502.3 L659.0,497.6 L660.1,493.2 L661.1,488.8 L662.0,484.7 L662.7,480.7 M592.0,602.8 L596.9,600.5 L601.7,597.9 L606.5,595.1 L611.3,592.0 L615.9,588.7 L620.4,585.2 L624.8,581.4 L629.1,577.4 L633.2,573.2 L637.2,568.8 L641.0,564.3 L644.6,559.5 L648.0,554.7 L651.2,549.7 L654.2,544.7 L657.1,539.6 L659.7,534.5 L662.1,529.4 L664.4,524.4 L666.4,519.3 L668.3,514.4 L670.1,509.5 L671.6,504.7 L673.1,500.0 M580.2,609.7 L585.4,608.6 L590.6,607.2 L595.8,605.6 L600.9,603.7 L606.1,601.5 L611.1,599.1 L616.1,596.4 L621.0,593.5 L625.8,590.2 L630.5,586.8 L635.1,583.0 L639.5,579.1 L643.7,574.9 L647.8,570.6 L651.7,566.0 L655.4,561.3 L659.0,556.5 L662.3,551.7 L665.5,546.7 L668.4,541.7 L671.2,536.6 L673.8,531.6 L676.3,526.6 L678.6,521.6 M582.0,609.4 L587.4,608.8 L592.7,607.9 L598.1,606.8 L603.5,605.3 L608.8,603.6 L614.1,601.6 L619.3,599.3 L624.4,596.7 L629.4,593.8 L634.4,590.6 L639.2,587.2 L643.8,583.5 L648.3,579.6 L652.7,575.5 L656.9,571.3 L660.9,566.8 L664.8,562.3 L668.5,557.6 L672.0,552.8 L675.3,548.0 L678.5,543.1 M593.7,606.7 L599.2,606.0 L604.6,605.0 L610.1,603.6 L615.5,602.0 L620.9,600.1 L626.2,597.8 L631.4,595.3 L636.6,592.5 L641.6,589.4 L646.5,586.1 L651.2,582.6 L655.9,578.8 L660.4,574.9 L664.7,570.8 L668.9,566.6 L673.0,562.2 M610.4,601.3 L615.9,600.1 L621.4,598.6 L626.8,596.8 L632.2,594.6 L637.5,592.3 L642.7,589.6 L647.8,586.7 L652.8,583.6 L657.7,580.3 L662.5,576.8 M626.7,593.4 L632.2,591.8 L637.6,589.9 L643.0,587.7 L648.3,585.4 M533.9,488.7 L534.4,488.2 L535.0,487.9 M547.0,485.3 L547.4,483.6 L547.8,482.1 L548.2,480.8 L548.6,479.8 L548.9,479.0 L549.3,478.5 L549.8,478.3 L550.3,478.4 M561.6,488.8 L562.1,485.9 L562.5,483.2 L562.9,480.6 L563.2,478.4 L563.5,476.3 L563.8,474.6 L564.0,473.1 L564.2,471.9 L564.5,470.9 L564.8,470.3 L565.1,470.0 L565.5,470.0 L566.0,470.3 L566.5,470.9 M576.0,498.7 L576.8,494.8 L577.6,491.1 L578.2,487.5 L578.8,484.1 L579.3,480.9 L579.6,477.9 L579.9,475.1 L580.2,472.7 L580.4,470.5 L580.6,468.5 L580.7,466.9 L580.8,465.6 L581.0,464.6 L581.2,463.9 L581.5,463.5 L581.8,463.4 L582.2,463.6 L582.7,464.0 L583.2,464.7 M588.6,513.9 L590.0,509.4 L591.3,504.9 L592.5,500.5 L593.5,496.3 L594.4,492.1 L595.2,488.1 L595.9,484.3 L596.4,480.7 L596.8,477.3 L597.2,474.2 L597.4,471.3 L597.6,468.7 L597.8,466.4 L597.9,464.3 L598.0,462.6 L598.1,461.2 L598.2,460.1 L598.4,459.3 L598.6,458.7 L598.8,458.5 L599.1,458.5 L599.5,458.7 L600.0,459.2 L600.6,459.8 M598.1,532.9 L600.3,528.1 L602.3,523.2 L604.2,518.4 L605.9,513.6 L607.4,508.8 L608.8,504.1 L610.0,499.5 L611.1,495.1 L612.1,490.8 L612.9,486.6 L613.5,482.7 L614.0,478.9 L614.5,475.5 L614.8,472.2 L615.0,469.2 L615.2,466.5 L615.4,464.1 L615.5,462.0 L615.5,460.2 L615.6,458.6 L615.7,457.3 L615.8,456.3 L616.0,455.5 L616.1,454.9 M603.5,553.5 L606.5,548.8 L609.3,544.0 L611.9,539.1 L614.4,534.2 L616.8,529.2 L618.9,524.2 L620.9,519.2 L622.8,514.2 L624.4,509.3 L625.8,504.5 L627.1,499.8 L628.3,495.3 L629.2,490.8 L630.0,486.6 L630.7,482.6 L631.3,478.8 L631.7,475.2 L632.1,471.9 L632.3,468.8 L632.5,466.0 L632.7,463.4 L632.8,461.1 L632.9,459.1 L633.0,457.2 M604.1,573.6 L607.9,569.3 L611.5,565.0 L615.0,560.4 L618.3,555.8 L621.5,551.0 L624.5,546.1 L627.3,541.1 L630.0,536.1 L632.5,531.0 L634.8,526.0 L636.8,520.9 L638.7,515.8 L640.4,510.9 L642.0,506.0 L643.3,501.2 L644.5,496.6 L645.5,492.1 L646.4,487.9 L647.1,483.8 L647.7,479.9 L648.3,476.2 L648.7,472.7 L649.1,469.5 L649.4,466.5 M600.0,590.8 L604.4,587.4 L608.7,583.8 L612.9,580.0 L617.1,576.1 L621.0,571.9 L624.9,567.5 L628.6,563.0 L632.1,558.3 L635.4,553.5 L638.6,548.6 L641.6,543.5 L644.3,538.5 L646.9,533.4 L649.3,528.2 L651.4,523.1 L653.4,518.1 L655.2,513.1 L656.8,508.2 L658.3,503.4 L659.5,498.7 L660.7,494.2 L661.7,489.9 L662.6,485.7 L663.4,481.6 M591.4,603.4 L596.4,601.1 L601.2,598.5 L606.1,595.8 L610.8,592.8 L615.5,589.5 L620.1,586.0 L624.5,582.3 L628.8,578.4 L633.0,574.2 L637.0,569.9 L640.8,565.3 L644.5,560.7 L647.9,555.8 L651.2,550.9 L654.3,545.9 L657.1,540.8 L659.8,535.7 L662.3,530.6 L664.6,525.5 L666.7,520.5 L668.6,515.5 L670.4,510.6 L672.0,505.8 L673.5,501.1 M579.5,609.9 L584.7,608.8 L589.9,607.5 L595.1,605.9 L600.3,604.1 L605.4,602.0 L610.5,599.7 L615.6,597.1 L620.5,594.2 L625.3,591.0 L630.1,587.6 L634.6,583.9 L639.1,580.0 L643.4,575.9 L647.5,571.6 L651.4,567.1 L655.2,562.4 L658.8,557.6 L662.2,552.8 L665.4,547.8 L668.4,542.8 L671.2,537.8 L673.9,532.8 L676.4,527.7 L678.7,522.8 M581.2,609.4 L586.6,608.9 L592.0,608.1 L597.3,607.0 L602.7,605.6 L608.1,603.9 L613.3,602.0 L618.6,599.7 L623.7,597.2 L628.8,594.4 L633.7,591.3 L638.6,587.9 L643.3,584.3 L647.8,580.5 L652.2,576.4 L656.5,572.2 L660.5,567.8 L664.4,563.2 L668.2,558.6 L671.7,553.9 L675.1,549.1 L678.4,544.2 M598.3,606.0 L603.8,605.0 L609.3,603.8 L614.7,602.2 L620.1,600.4 L625.4,598.2 L630.7,595.8 L635.8,593.0 L640.9,590.0 L645.8,586.7 L650.6,583.3 L655.3,579.6 L659.8,575.7 L664.2,571.6 L668.4,567.4 L672.5,563.1 M609.5,601.3 L615.0,600.2 L620.5,598.7 L626.0,596.9 L631.4,594.9 L636.7,592.6 L641.9,590.0 L647.1,587.2 L652.1,584.1 L657.0,580.9 L661.9,577.4 M625.8,593.4 L631.3,591.8 L636.8,590.0 L642.2,587.9 L647.5,585.6 M534.5,488.4 L535.1,487.8 L535.6,487.4 L536.3,487.3 M547.7,485.3 L548.2,483.5 L548.5,481.9 L548.9,480.6 L549.3,479.5 L549.6,478.7 L550.0,478.1 L550.5,477.8 L551.0,477.9 M562.3,489.1 L562.9,486.2 L563.3,483.4 L563.7,480.8 L564.0,478.5 L564.3,476.4 L564.6,474.6 L564.8,473.0 L565.0,471.7 L565.3,470.7 L565.5,470.1 L565.9,469.7 L566.2,469.6 L566.7,469.8 L567.2,470.3 M576.7,499.3 L577.6,495.4 L578.3,491.7 L579.0,488.0 L579.6,484.6 L580.1,481.3 L580.5,478.3 L580.8,475.5 L581.0,472.9 L581.3,470.6 L581.4,468.6 L581.6,467.0 L581.7,465.6 L581.9,464.5 L582.1,463.7 L582.3,463.3 L582.6,463.1 L583.0,463.2 L583.4,463.6 L584.0,464.2 L584.6,465.1 M589.2,514.9 L590.7,510.3 L592.0,505.8 L593.2,501.4 L594.3,497.1 L595.2,492.9 L596.0,488.8 L596.7,485.0 L597.2,481.3 L597.7,477.9 L598.0,474.7 L598.3,471.7 L598.5,469.1 L598.7,466.7 L598.8,464.6 L598.9,462.8 L599.0,461.3 L599.1,460.1 L599.2,459.2 L599.4,458.6 L599.7,458.3 L600.0,458.2 L600.3,458.4 L600.8,458.8 L601.3,459.4 M598.5,534.0 L600.7,529.1 L602.8,524.3 L604.7,519.4 L606.4,514.6 L608.0,509.8 L609.4,505.1 L610.7,500.5 L611.8,496.0 L612.8,491.6 L613.6,487.4 L614.3,483.4 L614.9,479.7 L615.3,476.1 L615.6,472.8 L615.9,469.8 L616.1,467.0 L616.2,464.5 L616.4,462.4 L616.4,460.4 L616.5,458.8 L616.6,457.4 L616.7,456.3 L616.8,455.5 L617.0,454.9 M603.7,554.6 L606.7,549.9 L609.5,545.1 L612.2,540.2 L614.8,535.3 L617.1,530.3 L619.4,525.3 L621.4,520.3 L623.3,515.4 L624.9,510.4 L626.4,505.6 L627.8,500.9 L628.9,496.3 L629.9,491.8 L630.7,487.5 L631.5,483.5 L632.0,479.6 L632.5,476.0 L632.9,472.6 L633.2,469.5 L633.4,466.6 L633.6,463.9 L633.7,461.6 L633.8,459.4 L633.9,457.5 M604.0,574.6 L607.8,570.4 L611.5,566.0 L615.0,561.5 L618.4,556.9 L621.6,552.1 L624.7,547.3 L627.5,542.3 L630.2,537.3 L632.8,532.2 L635.1,527.1 L637.2,522.1 L639.2,517.0 L640.9,512.0 L642.5,507.1 L643.8,502.3 L645.1,497.7 L646.1,493.2 L647.0,488.8 L647.8,484.7 L648.4,480.8 L649.0,477.0 L649.5,473.5 L649.8,470.2 L650.2,467.1" fill="none" stroke="#c6c6be" stroke-width="6.5"/><path d="M575.2,498.0 L576.1,494.2 L576.8,490.5 L577.4,487.0 L578.0,483.6 L578.4,480.5 L578.8,477.5 L579.1,474.9 L579.3,472.4 L579.5,470.3 L579.7,468.4 L579.8,466.9 L580.0,465.6 L580.2,464.7 L580.4,464.1 L580.6,463.7 L581.0,463.7 L581.4,464.0 L581.9,464.5 L582.5,465.2 M588.0,513.0 L589.4,508.5 L590.7,504.1 L591.8,499.7 L592.8,495.5 L593.7,491.4 L594.4,487.4 L595.1,483.7 L595.6,480.1 L596.0,476.8 L596.3,473.7 L596.6,470.9 L596.8,468.3 L596.9,466.1 L597.0,464.1 L597.1,462.5 L597.2,461.1 L597.3,460.1 L597.5,459.3 L597.7,458.9 L598.0,458.7 L598.3,458.7 L598.7,459.0 L599.2,459.6 L599.8,460.3 M597.7,531.9 L599.8,527.0 L601.8,522.2 L603.6,517.4 L605.3,512.6 L606.8,507.8 L608.2,503.2 L609.4,498.6 L610.4,494.2 L611.3,489.9 L612.1,485.8 L612.7,481.9 L613.2,478.2 L613.6,474.8 L613.9,471.6 L614.2,468.7 L614.3,466.1 L614.5,463.7 L614.5,461.7 L614.6,459.9 L614.7,458.4 L614.8,457.2 L614.9,456.2 L615.1,455.5 L615.3,455.0 M603.3,552.4 L606.2,547.7 L609.0,542.9 L611.6,538.0 L614.1,533.0 L616.4,528.1 L618.5,523.1 L620.5,518.1 L622.2,513.2 L623.8,508.3 L625.3,503.5 L626.5,498.8 L627.6,494.3 L628.5,489.9 L629.3,485.7 L629.9,481.7 L630.5,478.0 L630.9,474.5 L631.2,471.2 L631.5,468.2 L631.7,465.4 L631.8,462.9 L631.9,460.7 L632.0,458.7 L632.1,456.9 M604.2,572.6 L607.9,568.3 L611.5,563.9 L614.9,559.3 L618.2,554.7 L621.4,549.9 L624.3,545.0 L627.1,540.0 L629.7,534.9 L632.2,529.9 L634.4,524.8 L636.4,519.7 L638.3,514.7 L640.0,509.7 L641.4,504.9 L642.7,500.2 L643.9,495.6 L644.9,491.1 L645.7,486.9 L646.4,482.8 L647.0,479.0 L647.5,475.4 L647.9,472.0 L648.3,468.8 L648.5,465.8 M600.3,590.0 L604.7,586.6 L609.0,582.9 L613.2,579.1 L617.2,575.1 L621.2,570.8 L625.0,566.4 L628.6,561.9 L632.1,557.2 L635.4,552.3 L638.5,547.4 L641.5,542.3 L644.2,537.3 L646.7,532.2 L649.0,527.0 L651.1,521.9 L653.1,516.9 L654.8,511.9 L656.4,507.0 L657.8,502.3 L659.0,497.6 L660.1,493.2 L661.1,488.8 L662.0,484.7 L662.7,480.7 M592.0,602.8 L596.9,600.5 L601.7,597.9 L606.5,595.1 L611.3,592.0 L615.9,588.7 L620.4,585.2 L624.8,581.4 L629.1,577.4 L633.2,573.2 L637.2,568.8 L641.0,564.3 L644.6,559.5 L648.0,554.7 L651.2,549.7 L654.2,544.7 L657.1,539.6 L659.7,534.5 L662.1,529.4 L664.4,524.4 L666.4,519.3 L668.3,514.4 L670.1,509.5 L671.6,504.7 L673.1,500.0 M580.2,609.7 L585.4,608.6 L590.6,607.2 L595.8,605.6 L600.9,603.7 L606.1,601.5 L611.1,599.1 L616.1,596.4 L621.0,593.5 L625.8,590.2 L630.5,586.8 L635.1,583.0 L639.5,579.1 L643.7,574.9 L647.8,570.6 L651.7,566.0 L655.4,561.3 L659.0,556.5 L662.3,551.7 L665.5,546.7 L668.4,541.7 L671.2,536.6 L673.8,531.6 L676.3,526.6 L678.6,521.6 M582.0,609.4 L587.4,608.8 L592.7,607.9 L598.1,606.8 L603.5,605.3 L608.8,603.6 L614.1,601.6 L619.3,599.3 L624.4,596.7 L629.4,593.8 L634.4,590.6 L639.2,587.2 L643.8,583.5 L648.3,579.6 L652.7,575.5 L656.9,571.3 L660.9,566.8 L664.8,562.3 L668.5,557.6 L672.0,552.8 L675.3,548.0 L678.5,543.1 M593.7,606.7 L599.2,606.0 L604.6,605.0 L610.1,603.6 L615.5,602.0 L620.9,600.1 L626.2,597.8 L631.4,595.3 L636.6,592.5 L641.6,589.4 L646.5,586.1 L651.2,582.6 L655.9,578.8 L660.4,574.9 L664.7,570.8 L668.9,566.6 L673.0,562.2 M610.4,601.3 L615.9,600.1 L621.4,598.6 L626.8,596.8 L632.2,594.6 L637.5,592.3 L642.7,589.6 L647.8,586.7 L652.8,583.6 L657.7,580.3 L662.5,576.8 M626.7,593.4 L632.2,591.8 L637.6,589.9 L643.0,587.7 L648.3,585.4 M533.9,488.7 L534.4,488.2 L535.0,487.9 M547.0,485.3 L547.4,483.6 L547.8,482.1 L548.2,480.8 L548.6,479.8 L548.9,479.0 L549.3,478.5 L549.8,478.3 L550.3,478.4 M561.6,488.8 L562.1,485.9 L562.5,483.2 L562.9,480.6 L563.2,478.4 L563.5,476.3 L563.8,474.6 L564.0,473.1 L564.2,471.9 L564.5,470.9 L564.8,470.3 L565.1,470.0 L565.5,470.0 L566.0,470.3 L566.5,470.9 M576.0,498.7 L576.8,494.8 L577.6,491.1 L578.2,487.5 L578.8,484.1 L579.3,480.9 L579.6,477.9 L579.9,475.1 L580.2,472.7 L580.4,470.5 L580.6,468.5 L580.7,466.9 L580.8,465.6 L581.0,464.6 L581.2,463.9 L581.5,463.5 L581.8,463.4 L582.2,463.6 L582.7,464.0 L583.2,464.7 M588.6,513.9 L590.0,509.4 L591.3,504.9 L592.5,500.5 L593.5,496.3 L594.4,492.1 L595.2,488.1 L595.9,484.3 L596.4,480.7 L596.8,477.3 L597.2,474.2 L597.4,471.3 L597.6,468.7 L597.8,466.4 L597.9,464.3 L598.0,462.6 L598.1,461.2 L598.2,460.1 L598.4,459.3 L598.6,458.7 L598.8,458.5 L599.1,458.5 L599.5,458.7 L600.0,459.2 L600.6,459.8 M598.1,532.9 L600.3,528.1 L602.3,523.2 L604.2,518.4 L605.9,513.6 L607.4,508.8 L608.8,504.1 L610.0,499.5 L611.1,495.1 L612.1,490.8 L612.9,486.6 L613.5,482.7 L614.0,478.9 L614.5,475.5 L614.8,472.2 L615.0,469.2 L615.2,466.5 L615.4,464.1 L615.5,462.0 L615.5,460.2 L615.6,458.6 L615.7,457.3 L615.8,456.3 L616.0,455.5 L616.1,454.9 M603.5,553.5 L606.5,548.8 L609.3,544.0 L611.9,539.1 L614.4,534.2 L616.8,529.2 L618.9,524.2 L620.9,519.2 L622.8,514.2 L624.4,509.3 L625.8,504.5 L627.1,499.8 L628.3,495.3 L629.2,490.8 L630.0,486.6 L630.7,482.6 L631.3,478.8 L631.7,475.2 L632.1,471.9 L632.3,468.8 L632.5,466.0 L632.7,463.4 L632.8,461.1 L632.9,459.1 L633.0,457.2 M604.1,573.6 L607.9,569.3 L611.5,565.0 L615.0,560.4 L618.3,555.8 L621.5,551.0 L624.5,546.1 L627.3,541.1 L630.0,536.1 L632.5,531.0 L634.8,526.0 L636.8,520.9 L638.7,515.8 L640.4,510.9 L642.0,506.0 L643.3,501.2 L644.5,496.6 L645.5,492.1 L646.4,487.9 L647.1,483.8 L647.7,479.9 L648.3,476.2 L648.7,472.7 L649.1,469.5 L649.4,466.5 M600.0,590.8 L604.4,587.4 L608.7,583.8 L612.9,580.0 L617.1,576.1 L621.0,571.9 L624.9,567.5 L628.6,563.0 L632.1,558.3 L635.4,553.5 L638.6,548.6 L641.6,543.5 L644.3,538.5 L646.9,533.4 L649.3,528.2 L651.4,523.1 L653.4,518.1 L655.2,513.1 L656.8,508.2 L658.3,503.4 L659.5,498.7 L660.7,494.2 L661.7,489.9 L662.6,485.7 L663.4,481.6 M591.4,603.4 L596.4,601.1 L601.2,598.5 L606.1,595.8 L610.8,592.8 L615.5,589.5 L620.1,586.0 L624.5,582.3 L628.8,578.4 L633.0,574.2 L637.0,569.9 L640.8,565.3 L644.5,560.7 L647.9,555.8 L651.2,550.9 L654.3,545.9 L657.1,540.8 L659.8,535.7 L662.3,530.6 L664.6,525.5 L666.7,520.5 L668.6,515.5 L670.4,510.6 L672.0,505.8 L673.5,501.1 M579.5,609.9 L584.7,608.8 L589.9,607.5 L595.1,605.9 L600.3,604.1 L605.4,602.0 L610.5,599.7 L615.6,597.1 L620.5,594.2 L625.3,591.0 L630.1,587.6 L634.6,583.9 L639.1,580.0 L643.4,575.9 L647.5,571.6 L651.4,567.1 L655.2,562.4 L658.8,557.6 L662.2,552.8 L665.4,547.8 L668.4,542.8 L671.2,537.8 L673.9,532.8 L676.4,527.7 L678.7,522.8 M581.2,609.4 L586.6,608.9 L592.0,608.1 L597.3,607.0 L602.7,605.6 L608.1,603.9 L613.3,602.0 L618.6,599.7 L623.7,597.2 L628.8,594.4 L633.7,591.3 L638.6,587.9 L643.3,584.3 L647.8,580.5 L652.2,576.4 L656.5,572.2 L660.5,567.8 L664.4,563.2 L668.2,558.6 L671.7,553.9 L675.1,549.1 L678.4,544.2 M598.3,606.0 L603.8,605.0 L609.3,603.8 L614.7,602.2 L620.1,600.4 L625.4,598.2 L630.7,595.8 L635.8,593.0 L640.9,590.0 L645.8,586.7 L650.6,583.3 L655.3,579.6 L659.8,575.7 L664.2,571.6 L668.4,567.4 L672.5,563.1 M609.5,601.3 L615.0,600.2 L620.5,598.7 L626.0,596.9 L631.4,594.9 L636.7,592.6 L641.9,590.0 L647.1,587.2 L652.1,584.1 L657.0,580.9 L661.9,577.4 M625.8,593.4 L631.3,591.8 L636.8,590.0 L642.2,587.9 L647.5,585.6 M534.5,488.4 L535.1,487.8 L535.6,487.4 L536.3,487.3 M547.7,485.3 L548.2,483.5 L548.5,481.9 L548.9,480.6 L549.3,479.5 L549.6,478.7 L550.0,478.1 L550.5,477.8 L551.0,477.9 M562.3,489.1 L562.9,486.2 L563.3,483.4 L563.7,480.8 L564.0,478.5 L564.3,476.4 L564.6,474.6 L564.8,473.0 L565.0,471.7 L565.3,470.7 L565.5,470.1 L565.9,469.7 L566.2,469.6 L566.7,469.8 L567.2,470.3 M576.7,499.3 L577.6,495.4 L578.3,491.7 L579.0,488.0 L579.6,484.6 L580.1,481.3 L580.5,478.3 L580.8,475.5 L581.0,472.9 L581.3,470.6 L581.4,468.6 L581.6,467.0 L581.7,465.6 L581.9,464.5 L582.1,463.7 L582.3,463.3 L582.6,463.1 L583.0,463.2 L583.4,463.6 L584.0,464.2 L584.6,465.1 M589.2,514.9 L590.7,510.3 L592.0,505.8 L593.2,501.4 L594.3,497.1 L595.2,492.9 L596.0,488.8 L596.7,485.0 L597.2,481.3 L597.7,477.9 L598.0,474.7 L598.3,471.7 L598.5,469.1 L598.7,466.7 L598.8,464.6 L598.9,462.8 L599.0,461.3 L599.1,460.1 L599.2,459.2 L599.4,458.6 L599.7,458.3 L600.0,458.2 L600.3,458.4 L600.8,458.8 L601.3,459.4 M598.5,534.0 L600.7,529.1 L602.8,524.3 L604.7,519.4 L606.4,514.6 L608.0,509.8 L609.4,505.1 L610.7,500.5 L611.8,496.0 L612.8,491.6 L613.6,487.4 L614.3,483.4 L614.9,479.7 L615.3,476.1 L615.6,472.8 L615.9,469.8 L616.1,467.0 L616.2,464.5 L616.4,462.4 L616.4,460.4 L616.5,458.8 L616.6,457.4 L616.7,456.3 L616.8,455.5 L617.0,454.9 M603.7,554.6 L606.7,549.9 L609.5,545.1 L612.2,540.2 L614.8,535.3 L617.1,530.3 L619.4,525.3 L621.4,520.3 L623.3,515.4 L624.9,510.4 L626.4,505.6 L627.8,500.9 L628.9,496.3 L629.9,491.8 L630.7,487.5 L631.5,483.5 L632.0,479.6 L632.5,476.0 L632.9,472.6 L633.2,469.5 L633.4,466.6 L633.6,463.9 L633.7,461.6 L633.8,459.4 L633.9,457.5 M604.0,574.6 L607.8,570.4 L611.5,566.0 L615.0,561.5 L618.4,556.9 L621.6,552.1 L624.7,547.3 L627.5,542.3 L630.2,537.3 L632.8,532.2 L635.1,527.1 L637.2,522.1 L639.2,517.0 L640.9,512.0 L642.5,507.1 L643.8,502.3 L645.1,497.7 L646.1,493.2 L647.0,488.8 L647.8,484.7 L648.4,480.8 L649.0,477.0 L649.5,473.5 L649.8,470.2 L650.2,467.1" fill="none" stroke="#ececE6" stroke-width="1.6" transform="translate(-1.6,0)"/><rect x="500" y="440" width="200" height="190" fill="url(#braidshade)"/></g>
<ellipse cx="552.7" cy="484.5" rx="8.3" ry="5.8" transform="rotate(80.1,552.7,484.5)" fill="url(#blob)" stroke="#8e8e88" stroke-width="0.7" />
<ellipse cx="567.7" cy="608.8" rx="8.4" ry="5.6" transform="rotate(117.7,567.7,608.8)" fill="url(#blob)" stroke="#8e8e88" stroke-width="0.7" />
<ellipse cx="555.9" cy="607.1" rx="7.7" ry="5.7" transform="rotate(-137.6,555.9,607.1)" fill="url(#blob)" stroke="#8e8e88" stroke-width="0.7" />
<ellipse cx="546.1" cy="598.2" rx="8.1" ry="6.8" transform="rotate(-163.8,546.1,598.2)" fill="url(#blob)" stroke="#8e8e88" stroke-width="0.7" />
<ellipse cx="535.6" cy="585.9" rx="9.9" ry="5.6" transform="rotate(-197.0,535.6,585.9)" fill="url(#blob)" stroke="#8e8e88" stroke-width="0.7" />
<ellipse cx="526.9" cy="571.5" rx="7.8" ry="6.1" transform="rotate(-172.2,526.9,571.5)" fill="url(#blob)" stroke="#8e8e88" stroke-width="0.7" />
<ellipse cx="519.8" cy="555.3" rx="9.1" ry="6.2" transform="rotate(123.1,519.8,555.3)" fill="url(#blob)" stroke="#8e8e88" stroke-width="0.7" />
<ellipse cx="516.0" cy="539.7" rx="8.0" ry="6.9" transform="rotate(-74.4,516.0,539.7)" fill="url(#blob)" stroke="#8e8e88" stroke-width="0.7" />
<ellipse cx="516.6" cy="525.0" rx="8.6" ry="6.1" transform="rotate(-134.6,516.6,525.0)" fill="url(#blob)" stroke="#8e8e88" stroke-width="0.7" />
<ellipse cx="519.3" cy="510.9" rx="8.9" ry="6.6" transform="rotate(-133.6,519.3,510.9)" fill="url(#blob)" stroke="#8e8e88" stroke-width="0.7" />
<ellipse cx="523.3" cy="499.3" rx="10.0" ry="5.7" transform="rotate(-88.5,523.3,499.3)" fill="url(#blob)" stroke="#8e8e88" stroke-width="0.7" />
<ellipse cx="531.9" cy="491.1" rx="8.7" ry="5.6" transform="rotate(-80.4,531.9,491.1)" fill="url(#blob)" stroke="#8e8e88" stroke-width="0.7" />
<ellipse cx="541.8" cy="486.2" rx="9.7" ry="6.1" transform="rotate(-68.5,541.8,486.2)" fill="url(#blob)" stroke="#8e8e88" stroke-width="0.7" />
<ellipse cx="482.0" cy="592.5" rx="33.3" ry="52.6" transform="rotate(-24.5,482.0,592.5)" fill="#303030" stroke="none" stroke-width="0" />
<path d="M275,652 L292,644 L400,606 L470,560 L505,560 L510,630 L480,642 L428,666 L330,715 L310,722 L285,690 Z" fill="#4c4c4c"/>
<path d="M372,592 C395,578 425,562 452,551 L500,544 L506,566 C470,570 430,576 387,585 Z" fill="url(#strp2)"/>
<path d="M384,585 C410,577 440,571 470,568 L505,565 L512,600 L470,601 C445,603 420,606 398,610 Z" fill="url(#wht)"/>
<ellipse cx="389.0" cy="597.5" rx="7.5" ry="12.5" transform="rotate(-20,389.0,597.5)" fill="#d8d8d8" stroke="#b0b0b0" stroke-width="1" />
<ellipse cx="277.0" cy="668.0" rx="11" ry="17.5" transform="rotate(-22,277.0,668.0)" fill="url(#dots)" stroke="none" stroke-width="0" />
<path d="M293,648 C320,634 345,624 370,618 C410,610 460,603 514,598 L516,637 C480,638 450,640 420,646 C390,652 360,666 312,682 Z" fill="url(#strp)"/>
<ellipse cx="302.5" cy="664.5" rx="9.5" ry="17.5" transform="rotate(-22,302.5,664.5)" fill="url(#dots)" stroke="none" stroke-width="0" />
<path d="M300,702 C330,694 370,684 420,668 L424,688 C390,698 350,712 322,734 Z" fill="url(#strp2)"/>
<ellipse cx="311.5" cy="717.0" rx="10" ry="17" transform="rotate(-22,311.5,717.0)" fill="url(#dots)" stroke="none" stroke-width="0" />
<g transform="translate(282.5,649.5) rotate(-22.46)"><rect x="0" y="-8.5" width="121.7" height="17.0" fill="url(#cu)" /></g>
<ellipse cx="282.5" cy="649.5" rx="7" ry="11.5" transform="rotate(-22,282.5,649.5)" fill="#cbb0a0" stroke="none" stroke-width="0" />
<path d="M417,645 C440,641 470,636 502,629 L504,636 C492,648 472,658 446,668 C436,672 429,674 423,675 Z" fill="url(#grn)"/>
<ellipse cx="421.0" cy="659.5" rx="4.5" ry="14.5" transform="rotate(-10,421.0,659.5)" fill="#548e22" stroke="none" stroke-width="0" />
<g transform="translate(319.5,699.0) rotate(-19.20)"><rect x="0" y="-9.5" width="106.4" height="19.0" fill="url(#cu)" /></g>
<ellipse cx="319.5" cy="699.0" rx="7.8" ry="11.5" transform="rotate(-22,319.5,699.0)" fill="#ccae9e" stroke="none" stroke-width="0" />
<ellipse cx="291.0" cy="702.0" rx="7.2" ry="11" transform="rotate(-22,291.0,702.0)" fill="#ac9484" stroke="#6a5a50" stroke-width="0.8" />
<path d="M451.1,552.2 C475,533 510,514 570,507.5 L580.9,503.7 A41,65 -20 0 1 573.7,610.7 L501.1,641.4 A33.3,52.6 -24.5 1 0 451.1,552.2 Z" fill="url(#foil)"/>
<path d="M448.5,556.7 A33.3,52.6 -24.5 0 1 478.3,544.1 A33.3,52.6 -24.5 0 1 502.7,640.8" fill="none" stroke="#d2d2d2" stroke-width="3.6"/>
<ellipse cx="565.2" cy="489.8" rx="9.1" ry="7.7" transform="rotate(149.9,565.2,489.8)" fill="url(#blob)" stroke="#8e8e88" stroke-width="0.7" />
<ellipse cx="575.7" cy="499.5" rx="8.2" ry="7.4" transform="rotate(-48.1,575.7,499.5)" fill="url(#blob)" stroke="#8e8e88" stroke-width="0.7" />
<ellipse cx="586.0" cy="508.0" rx="8.7" ry="6.8" transform="rotate(84.2,586.0,508.0)" fill="url(#blob)" stroke="#8e8e88" stroke-width="0.7" />
<ellipse cx="592.8" cy="524.4" rx="8.4" ry="6.2" transform="rotate(-19.5,592.8,524.4)" fill="url(#blob)" stroke="#8e8e88" stroke-width="0.7" />
<ellipse cx="601.4" cy="538.1" rx="8.6" ry="6.8" transform="rotate(105.1,601.4,538.1)" fill="url(#blob)" stroke="#8e8e88" stroke-width="0.7" />
<ellipse cx="604.8" cy="556.8" rx="9.4" ry="7.8" transform="rotate(-195.0,604.8,556.8)" fill="url(#blob)" stroke="#8e8e88" stroke-width="0.7" />
<ellipse cx="605.5" cy="572.9" rx="9.0" ry="6.7" transform="rotate(-187.9,605.5,572.9)" fill="url(#blob)" stroke="#8e8e88" stroke-width="0.7" />
<ellipse cx="601.0" cy="585.7" rx="8.4" ry="6.5" transform="rotate(66.2,601.0,585.7)" fill="url(#blob)" stroke="#8e8e88" stroke-width="0.7" />
<ellipse cx="596.2" cy="597.0" rx="8.7" ry="6.0" transform="rotate(105.8,596.2,597.0)" fill="url(#blob)" stroke="#8e8e88" stroke-width="0.7" />
<ellipse cx="588.6" cy="606.1" rx="10.4" ry="7.4" transform="rotate(186.6,588.6,606.1)" fill="url(#blob)" stroke="#8e8e88" stroke-width="0.7" />
<ellipse cx="579.6" cy="611.2" rx="8.1" ry="7.8" transform="rotate(-126.7,579.6,611.2)" fill="url(#blob)" stroke="#8e8e88" stroke-width="0.7" />
<ellipse cx="598.0" cy="542.0" rx="4" ry="11" transform="rotate(-25,598.0,542.0)" fill="#5e5e60" stroke="none" stroke-width="0" />
<line x1="798" y1="520" x2="798" y2="587" stroke="#a4a4a4" stroke-width="1.6"/>
<line x1="629" y1="612" x2="629" y2="678" stroke="#a4a4a4" stroke-width="1.6"/>
<line x1="551" y1="652.5" x2="551" y2="718.5" stroke="#a4a4a4" stroke-width="1.6"/>
<line x1="462.5" y1="684.5" x2="462.5" y2="744.5" stroke="#a4a4a4" stroke-width="1.6"/>
<line x1="346" y1="740" x2="346" y2="805.5" stroke="#a4a4a4" stroke-width="1.6"/>
<text x="76.61" y="156" font-size="46.5" textLength="352.33" lengthAdjust="spacingAndGlyphs">Decomposition</text>
<text x="437.75" y="156" font-size="46.5" textLength="120.12" lengthAdjust="spacingAndGlyphs">From</text>
<text x="567.54" y="156" font-size="46.5" textLength="178.23" lengthAdjust="spacingAndGlyphs">Outside</text>
<text x="754.74" y="156" font-size="46.5" textLength="59.06" lengthAdjust="spacingAndGlyphs">To</text>
<text x="823.36" y="156" font-size="46.5" textLength="133.82" lengthAdjust="spacingAndGlyphs">Inside</text>
<text x="81.83" y="222" font-size="22.5" textLength="67.27" lengthAdjust="spacingAndGlyphs">Every</text>
<text x="153.10" y="222" font-size="22.5" textLength="119.39" lengthAdjust="spacingAndGlyphs">material's</text>
<text x="277.78" y="222" font-size="22.5" textLength="83.06" lengthAdjust="spacingAndGlyphs">choice</text>
<text x="367.29" y="222" font-size="22.5" textLength="45.93" lengthAdjust="spacingAndGlyphs">that</text>
<text x="420.22" y="222" font-size="22.5" textLength="108.20" lengthAdjust="spacingAndGlyphs">stringent</text>
<text x="535.56" y="222" font-size="22.5" textLength="74.34" lengthAdjust="spacingAndGlyphs">follow</text>
<text x="83.25" y="267.5" font-size="22.5" textLength="105.79" lengthAdjust="spacingAndGlyphs">standard</text>
<text x="194.19" y="267.5" font-size="22.5" textLength="92.02" lengthAdjust="spacingAndGlyphs">original</text>
<text x="291.62" y="267.5" font-size="22.5" textLength="27.05" lengthAdjust="spacingAndGlyphs">of</text>
<text x="326.93" y="267.5" font-size="22.5" textLength="76.20" lengthAdjust="spacingAndGlyphs">Apple.</text>
<text x="81.70" y="313" font-size="22.5" textLength="64.92" lengthAdjust="spacingAndGlyphs">From</text>
<text x="152.39" y="313" font-size="22.5" textLength="91.89" lengthAdjust="spacingAndGlyphs">outside</text>
<text x="249.33" y="313" font-size="22.5" textLength="26.07" lengthAdjust="spacingAndGlyphs">to</text>
<text x="279.71" y="313" font-size="22.5" textLength="72.98" lengthAdjust="spacingAndGlyphs">inside</text>
<text x="358.46" y="313" font-size="22.5" textLength="33.96" lengthAdjust="spacingAndGlyphs">for</text>
<text x="399.53" y="313" font-size="22.5" textLength="129.75" lengthAdjust="spacingAndGlyphs">attentively</text>
<text x="776.29" y="615" font-size="19" textLength="35.79" lengthAdjust="spacingAndGlyphs">TPE</text>
<text x="605.66" y="701.8" font-size="19" textLength="54.45" lengthAdjust="spacingAndGlyphs">Metal</text>
<text x="662.41" y="701.8" font-size="19" textLength="50.59" lengthAdjust="spacingAndGlyphs">Braid</text>
<text x="541.95" y="748.8" font-size="19" textLength="95.88" lengthAdjust="spacingAndGlyphs">Aluminum</text>
<text x="640.22" y="748.8" font-size="19" textLength="34.71" lengthAdjust="spacingAndGlyphs">Foil</text>
<text x="448.99" y="786" font-size="19" textLength="49.51" lengthAdjust="spacingAndGlyphs">Earth</text>
<text x="503.40" y="786" font-size="19" textLength="51.71" lengthAdjust="spacingAndGlyphs">Wires</text>
<text x="323.91" y="844.6" font-size="19" textLength="95.49" lengthAdjust="spacingAndGlyphs">Tin-plated</text>
<text x="322.64" y="880" font-size="19" textLength="67.48" lengthAdjust="spacingAndGlyphs">Bronze</text>
<text x="397.20" y="880" font-size="19" textLength="52.12" lengthAdjust="spacingAndGlyphs">Wires</text>
</svg>
</body></html>
